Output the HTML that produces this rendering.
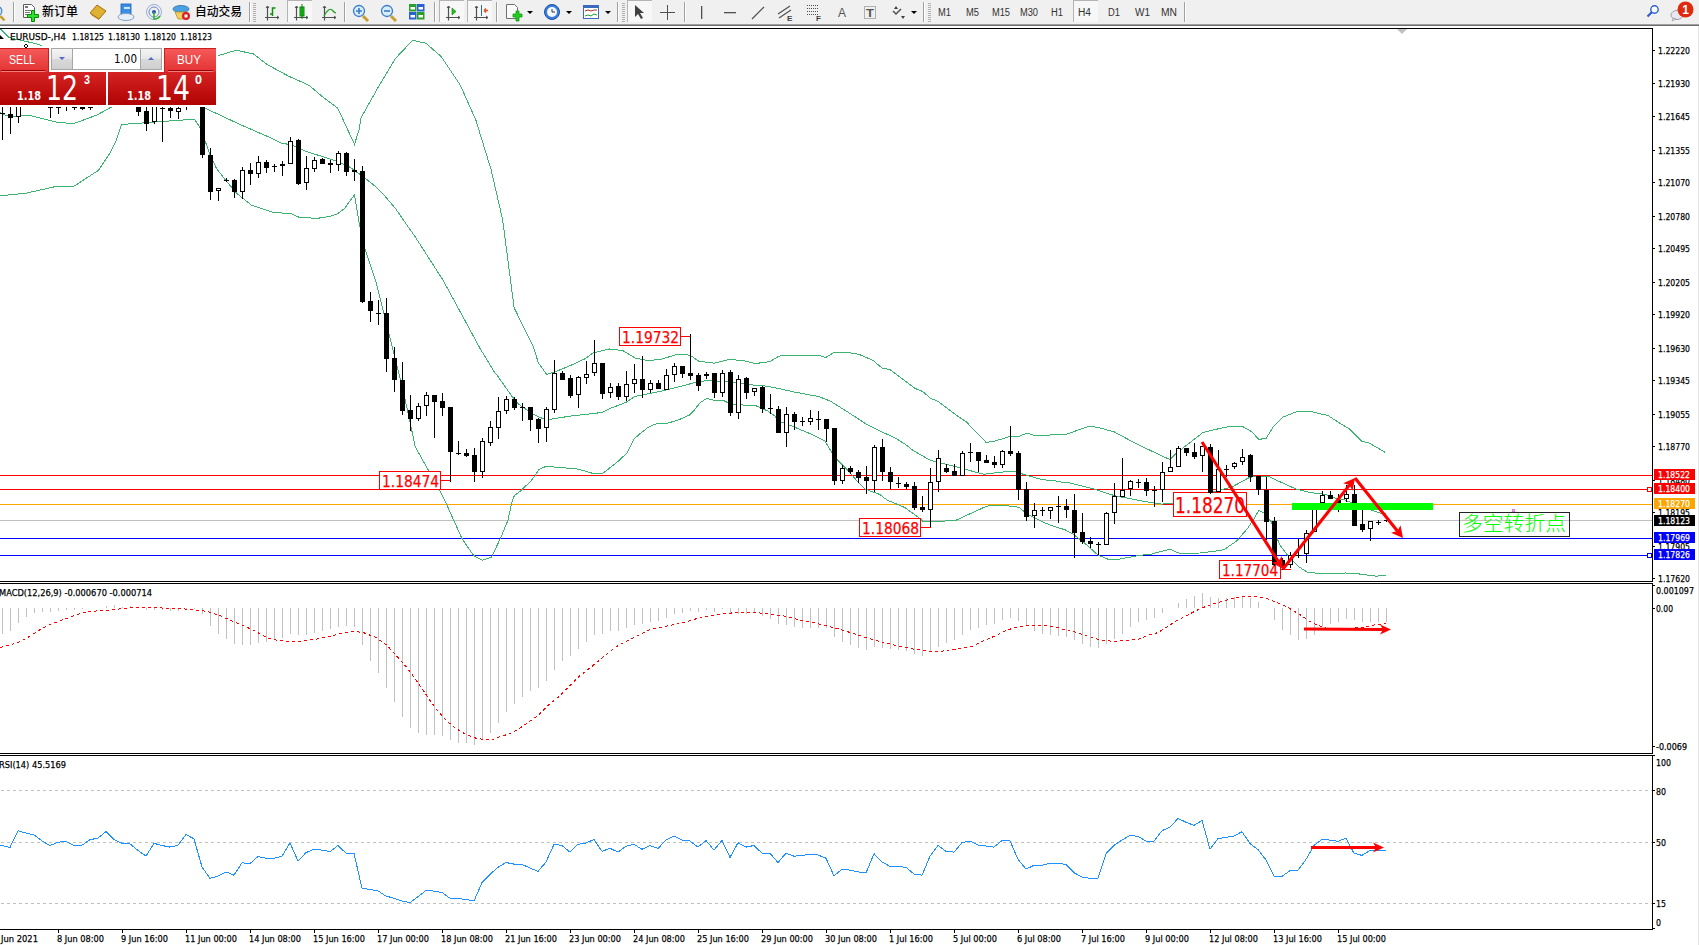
<!DOCTYPE html><html><head><meta charset="utf-8"><title>EURUSD H4</title><style>html,body{margin:0;padding:0;background:#fff;width:1699px;height:945px;overflow:hidden}svg{display:block}text{font-family:"Liberation Sans",Arial,sans-serif}</style></head><body>
<svg width="1699" height="945" viewBox="0 0 1699 945">
<defs><clipPath id="cmain"><rect x="0" y="29" width="1652" height="552"/></clipPath><clipPath id="cmacd"><rect x="0" y="584" width="1652" height="169"/></clipPath><clipPath id="crsi"><rect x="0" y="756" width="1652" height="173"/></clipPath><linearGradient id="gtop" x1="0" y1="0" x2="0" y2="1"><stop offset="0" stop-color="#f65b5b"/><stop offset="1" stop-color="#e23232"/></linearGradient><linearGradient id="gbot" x1="0" y1="0" x2="0" y2="1"><stop offset="0" stop-color="#d62424"/><stop offset="1" stop-color="#b00202"/></linearGradient><linearGradient id="gbtn" x1="0" y1="0" x2="0" y2="1"><stop offset="0" stop-color="#f4f4f4"/><stop offset="0.5" stop-color="#e6e6e6"/><stop offset="0.5" stop-color="#d9d9d9"/><stop offset="1" stop-color="#cfcfcf"/></linearGradient></defs>
<rect x="0" y="0" width="1699" height="945" fill="#fff"/>
<g shape-rendering="crispEdges">
<rect x="0" y="475" width="1652" height="1" fill="#ff0000"/>
<rect x="0" y="489" width="1652" height="1" fill="#ff0000"/>
<rect x="0" y="504" width="1652" height="1" fill="#ffa500"/>
<rect x="0" y="520" width="1652" height="1" fill="#c0c0c0"/>
<rect x="0" y="538" width="1652" height="1" fill="#0000ff"/>
<rect x="0" y="555" width="1652" height="1" fill="#0000ff"/>
</g>
<g clip-path="url(#cmain)" fill="none" stroke="#3cb371" stroke-width="1" shape-rendering="crispEdges">
<polyline points="0.0,28.5 9.4,37.7 22.0,40.5 35.0,43.5 41.4,45.5 50.0,52.0 120.0,56.0 218.4,55.6 236.4,50.2 253.6,54.0 267.0,64.4 288.1,75.9 309.2,85.4 322.6,96.9 337.9,108.4 347.8,130.0 354.5,144.3 359.0,130.0 360.9,118.0 378.1,87.4 395.3,58.6 412.6,40.3 426.0,43.3 441.3,56.7 460.4,85.4 475.8,119.9 491.1,169.7 502.6,219.5 514.1,307.6 525.0,330.0 533.3,346.5 538.4,363.0 546.7,374.4 555.0,371.9 568.9,366.2 585.4,358.6 593.0,352.9 609.5,349.0 622.7,350.5 635.4,358.1 648.1,360.6 660.8,359.4 677.3,354.3 686.2,354.3 692.5,356.8 698.9,361.3 714.1,363.2 729.4,359.4 743.3,360.6 754.8,363.4 765.7,362.5 770.6,361.1 778.4,356.4 782.6,355.4 819.3,355.4 825.7,357.5 834.2,352.3 846.2,352.3 858.9,354.3 873.0,360.4 882.2,368.1 890.0,369.6 901.3,378.0 915.4,388.6 922.5,391.4 930.9,398.5 938.0,401.3 957.8,416.2 966.2,421.8 986.0,442.3 993.1,441.6 1000.0,439.5 1010.4,436.3 1019.3,436.3 1026.9,433.1 1034.5,435.5 1044.7,435.5 1055.0,434.5 1066.9,434.1 1089.1,426.2 1098.0,427.4 1114.3,431.9 1132.0,441.5 1150.0,450.3 1169.9,459.6 1176.5,453.0 1183.8,447.4 1192.7,440.5 1203.0,432.4 1211.8,430.2 1229.5,426.5 1242.0,426.2 1251.5,431.6 1258.9,439.4 1266.2,438.3 1273.6,426.2 1282.4,417.4 1297.1,411.5 1310.4,411.5 1328.0,415.5 1339.8,423.2 1350.1,429.4 1361.9,441.2 1369.2,443.0 1385.4,452.5"/>
<polyline points="0.0,112.7 8.5,116.4 21.2,115.7 30.7,115.7 40.2,118.0 57.1,122.4 73.0,123.5 76.2,122.8 97.4,114.8 111.1,107.2 130.0,95.0 150.0,92.0 180.0,95.0 205.7,108.4 238.3,123.7 260.0,133.2 270.0,137.5 281.2,143.2 291.7,144.8 305.5,151.2 334.0,160.2 348.9,166.5 355.0,170.8 365.8,178.7 374.3,185.6 381.7,192.4 395.4,208.3 410.3,230.0 414.4,235.6 443.2,280.5 448.4,290.0 470.1,330.0 480.0,348.4 494.6,372.4 496.5,374.4 511.7,396.0 518.0,403.7 533.3,414.4 543.5,418.9 549.2,419.5 568.9,416.3 601.9,412.5 610.0,408.5 626.0,402.4 635.4,396.2 640.0,395.5 665.9,390.1 693.8,382.9 707.8,380.3 721.7,381.6 740.8,382.9 749.7,384.8 760.0,385.4 770.0,386.7 777.0,388.2 795.3,392.2 819.3,396.7 830.6,401.3 847.6,411.9 865.9,423.9 882.9,432.4 894.2,437.4 905.0,444.1 912.6,450.1 915.2,451.7 930.4,460.4 946.9,464.4 959.6,467.6 968.5,470.2 983.7,474.3 1001.5,472.1 1014.2,471.4 1024.4,474.6 1042.1,479.7 1055.0,480.7 1065.0,482.9 1069.8,483.0 1092.0,488.4 1114.3,495.6 1129.1,498.5 1151.3,502.7 1161.7,504.1 1173.5,503.2 1214.0,491.5 1231.7,487.1 1249.2,477.6 1255.6,476.0 1268.3,476.0 1275.0,479.5 1295.2,488.7 1310.0,492.6 1318.7,493.4 1325.9,494.6 1336.2,498.6 1344.1,499.8 1351.3,502.5 1372.7,510.5 1379.8,512.9 1385.7,514.0"/>
<polyline points="0.0,195.8 26.5,193.1 57.1,186.2 74.0,186.2 98.4,170.4 110.0,152.9 116.4,140.2 121.7,124.3 122.3,124.4 194.5,119.2 200.3,128.0 205.0,140.7 210.0,154.7 216.6,168.7 224.7,179.0 236.4,193.0 251.5,205.3 264.3,209.4 273.8,212.5 290.7,213.6 299.2,217.3 317.1,218.4 330.9,216.2 337.8,213.6 344.7,208.3 354.5,194.6 359.5,224.5 364.9,249.0 376.6,284.1 383.8,313.0 389.0,334.2 399.1,374.4 407.2,408.6 415.2,446.8 428.5,470.4 439.6,490.4 446.3,503.7 461.9,538.5 473.7,555.6 482.6,560.3 491.5,557.0 500.4,538.5 507.8,520.7 512.2,500.7 514.6,495.3 519.8,491.6 527.3,484.5 531.1,480.7 534.8,476.0 538.6,469.9 545.2,466.6 550.8,466.6 558.4,467.6 574.4,468.5 581.0,469.9 593.2,473.5 602.6,473.5 616.8,462.4 627.1,453.0 633.7,439.3 640.0,433.7 648.5,427.1 657.4,423.3 667.3,423.3 679.5,419.5 689.9,414.8 692.7,412.0 700.3,402.6 706.9,398.4 713.4,400.2 722.9,400.2 727.6,402.6 734.2,404.7 754.9,405.4 759.6,407.3 768.0,411.1 774.6,415.8 779.4,421.4 787.9,424.4 810.8,434.0 824.8,441.0 831.1,451.1 837.5,460.0 848.9,471.4 856.5,480.3 865.4,489.2 879.4,494.3 887.0,500.0 905.0,507.6 919.0,517.8 922.8,521.3 940.6,521.3 955.8,520.3 986.3,506.3 993.9,505.1 1014.2,506.3 1019.3,507.6 1026.9,514.0 1034.5,517.8 1044.7,522.9 1055.0,526.7 1065.0,529.8 1072.8,533.8 1084.6,543.0 1098.0,555.1 1108.3,559.3 1118.7,559.3 1138.0,555.6 1151.3,554.1 1169.8,549.2 1179.4,553.3 1200.0,553.0 1215.0,551.1 1223.8,549.8 1236.5,541.1 1247.6,528.4 1254.0,518.9 1258.7,510.6 1263.5,512.5 1271.4,522.1 1279.4,544.3 1288.9,557.0 1298.4,566.5 1307.6,572.4 1322.9,573.7 1345.7,573.0 1357.1,573.7 1376.2,576.2 1385.7,575.2"/>
</g>
<rect x="379.5" y="471.5" width="61" height="18" fill="#fff" stroke="#ff0000" stroke-width="1" shape-rendering="crispEdges"/>
<rect x="441" y="480" width="10" height="1" fill="#ff0000" shape-rendering="crispEdges"/>
<text x="382" y="487" font-size="16" fill="#ff0000" stroke="#ff0000" stroke-width="0.25" textLength="57" lengthAdjust="spacingAndGlyphs" style="font-family:DejaVu Sans, Liberation Sans, sans-serif">1.18474</text>
<rect x="619.5" y="327.5" width="61" height="18" fill="#fff" stroke="#ff0000" stroke-width="1" shape-rendering="crispEdges"/>
<rect x="681" y="336" width="10" height="1" fill="#ff0000" shape-rendering="crispEdges"/>
<text x="622" y="343" font-size="16" fill="#ff0000" stroke="#ff0000" stroke-width="0.25" textLength="57" lengthAdjust="spacingAndGlyphs" style="font-family:DejaVu Sans, Liberation Sans, sans-serif">1.19732</text>
<rect x="859.5" y="518.5" width="61" height="18" fill="#fff" stroke="#ff0000" stroke-width="1" shape-rendering="crispEdges"/>
<rect x="921" y="527" width="10" height="1" fill="#ff0000" shape-rendering="crispEdges"/>
<text x="862" y="534" font-size="16" fill="#ff0000" stroke="#ff0000" stroke-width="0.25" textLength="57" lengthAdjust="spacingAndGlyphs" style="font-family:DejaVu Sans, Liberation Sans, sans-serif">1.18068</text>
<rect x="1173.5" y="492.5" width="73" height="24" fill="#fff" stroke="#ff0000" stroke-width="1" shape-rendering="crispEdges"/>
<rect x="1163" y="504" width="10" height="1" fill="#ff0000" shape-rendering="crispEdges"/>
<text x="1175" y="513" font-size="22" fill="#ff0000" stroke="#ff0000" stroke-width="0.25" textLength="70" lengthAdjust="spacingAndGlyphs" style="font-family:DejaVu Sans, Liberation Sans, sans-serif">1.18270</text>
<rect x="1219.5" y="560.5" width="61" height="18" fill="#fff" stroke="#ff0000" stroke-width="1" shape-rendering="crispEdges"/>
<rect x="1281" y="569" width="10" height="1" fill="#ff0000" shape-rendering="crispEdges"/>
<text x="1222" y="576" font-size="16" fill="#ff0000" stroke="#ff0000" stroke-width="0.25" textLength="56" lengthAdjust="spacingAndGlyphs" style="font-family:DejaVu Sans, Liberation Sans, sans-serif">1.17704</text>
<g shape-rendering="crispEdges">
<rect x="2" y="90" width="1" height="50" fill="#000"/>
<rect x="0" y="113" width="5" height="1" fill="#000"/>
<rect x="10" y="90" width="1" height="44" fill="#000"/>
<rect x="8" y="114" width="5" height="4" fill="#000"/>
<rect x="18" y="90" width="1" height="33" fill="#000"/>
<rect x="16" y="95" width="5" height="22" fill="#000"/>
<rect x="17" y="96" width="3" height="20" fill="#fff"/>
<rect x="26" y="60" width="1" height="35" fill="#000"/>
<rect x="24" y="70" width="5" height="15" fill="#000"/>
<rect x="34" y="60" width="1" height="35" fill="#000"/>
<rect x="32" y="70" width="5" height="15" fill="#000"/>
<rect x="33" y="71" width="3" height="13" fill="#fff"/>
<rect x="42" y="60" width="1" height="35" fill="#000"/>
<rect x="40" y="70" width="5" height="15" fill="#000"/>
<rect x="50" y="95" width="1" height="23" fill="#000"/>
<rect x="48" y="98" width="5" height="10" fill="#000"/>
<rect x="58" y="95" width="1" height="19" fill="#000"/>
<rect x="56" y="98" width="5" height="10" fill="#000"/>
<rect x="57" y="99" width="3" height="8" fill="#fff"/>
<rect x="66" y="95" width="1" height="16" fill="#000"/>
<rect x="64" y="100" width="5" height="2" fill="#000"/>
<rect x="74" y="95" width="1" height="15" fill="#000"/>
<rect x="72" y="100" width="5" height="8" fill="#000"/>
<rect x="82" y="95" width="1" height="15" fill="#000"/>
<rect x="80" y="100" width="5" height="9" fill="#000"/>
<rect x="90" y="95" width="1" height="15" fill="#000"/>
<rect x="88" y="100" width="5" height="8" fill="#000"/>
<rect x="89" y="101" width="3" height="6" fill="#fff"/>
<rect x="98" y="60" width="1" height="35" fill="#000"/>
<rect x="96" y="70" width="5" height="15" fill="#000"/>
<rect x="106" y="60" width="1" height="35" fill="#000"/>
<rect x="104" y="70" width="5" height="15" fill="#000"/>
<rect x="105" y="71" width="3" height="13" fill="#fff"/>
<rect x="114" y="60" width="1" height="35" fill="#000"/>
<rect x="112" y="70" width="5" height="15" fill="#000"/>
<rect x="113" y="71" width="3" height="13" fill="#fff"/>
<rect x="122" y="60" width="1" height="35" fill="#000"/>
<rect x="120" y="70" width="5" height="15" fill="#000"/>
<rect x="130" y="60" width="1" height="35" fill="#000"/>
<rect x="128" y="70" width="5" height="15" fill="#000"/>
<rect x="129" y="71" width="3" height="13" fill="#fff"/>
<rect x="138" y="90" width="1" height="26" fill="#000"/>
<rect x="136" y="95" width="5" height="17" fill="#000"/>
<rect x="146" y="107" width="1" height="24" fill="#000"/>
<rect x="144" y="111" width="5" height="13" fill="#000"/>
<rect x="154" y="90" width="1" height="34" fill="#000"/>
<rect x="152" y="95" width="5" height="27" fill="#000"/>
<rect x="153" y="96" width="3" height="25" fill="#fff"/>
<rect x="162" y="95" width="1" height="47" fill="#000"/>
<rect x="160" y="108" width="5" height="1" fill="#000"/>
<rect x="170" y="107" width="1" height="11" fill="#000"/>
<rect x="168" y="108" width="5" height="3" fill="#000"/>
<rect x="178" y="107" width="1" height="12" fill="#000"/>
<rect x="176" y="108" width="5" height="4" fill="#000"/>
<rect x="177" y="109" width="3" height="2" fill="#fff"/>
<rect x="186" y="90" width="1" height="20" fill="#000"/>
<rect x="184" y="95" width="5" height="9" fill="#000"/>
<rect x="194" y="60" width="1" height="35" fill="#000"/>
<rect x="192" y="70" width="5" height="15" fill="#000"/>
<rect x="202" y="90" width="1" height="68" fill="#000"/>
<rect x="200" y="95" width="5" height="60" fill="#000"/>
<rect x="210" y="148" width="1" height="52" fill="#000"/>
<rect x="208" y="155" width="5" height="37" fill="#000"/>
<rect x="218" y="188" width="1" height="13" fill="#000"/>
<rect x="216" y="188" width="5" height="3" fill="#000"/>
<rect x="217" y="189" width="3" height="1" fill="#fff"/>
<rect x="226" y="178" width="1" height="4" fill="#000"/>
<rect x="224" y="180" width="5" height="1" fill="#000"/>
<rect x="234" y="179" width="1" height="19" fill="#000"/>
<rect x="232" y="180" width="5" height="12" fill="#000"/>
<rect x="242" y="167" width="1" height="32" fill="#000"/>
<rect x="240" y="170" width="5" height="22" fill="#000"/>
<rect x="241" y="171" width="3" height="20" fill="#fff"/>
<rect x="250" y="163" width="1" height="22" fill="#000"/>
<rect x="248" y="170" width="5" height="4" fill="#000"/>
<rect x="258" y="156" width="1" height="22" fill="#000"/>
<rect x="256" y="162" width="5" height="12" fill="#000"/>
<rect x="257" y="163" width="3" height="10" fill="#fff"/>
<rect x="266" y="160" width="1" height="13" fill="#000"/>
<rect x="264" y="162" width="5" height="6" fill="#000"/>
<rect x="274" y="164" width="1" height="8" fill="#000"/>
<rect x="272" y="166" width="5" height="1" fill="#000"/>
<rect x="282" y="161" width="1" height="15" fill="#000"/>
<rect x="280" y="164" width="5" height="2" fill="#000"/>
<rect x="290" y="137" width="1" height="27" fill="#000"/>
<rect x="288" y="141" width="5" height="23" fill="#000"/>
<rect x="289" y="142" width="3" height="21" fill="#fff"/>
<rect x="298" y="139" width="1" height="46" fill="#000"/>
<rect x="296" y="140" width="5" height="44" fill="#000"/>
<rect x="306" y="156" width="1" height="34" fill="#000"/>
<rect x="304" y="168" width="5" height="15" fill="#000"/>
<rect x="305" y="169" width="3" height="13" fill="#fff"/>
<rect x="314" y="157" width="1" height="15" fill="#000"/>
<rect x="312" y="160" width="5" height="9" fill="#000"/>
<rect x="313" y="161" width="3" height="7" fill="#fff"/>
<rect x="322" y="158" width="1" height="6" fill="#000"/>
<rect x="320" y="159" width="5" height="5" fill="#000"/>
<rect x="330" y="160" width="1" height="13" fill="#000"/>
<rect x="328" y="163" width="5" height="2" fill="#000"/>
<rect x="338" y="151" width="1" height="20" fill="#000"/>
<rect x="336" y="153" width="5" height="12" fill="#000"/>
<rect x="337" y="154" width="3" height="10" fill="#fff"/>
<rect x="346" y="152" width="1" height="24" fill="#000"/>
<rect x="344" y="153" width="5" height="19" fill="#000"/>
<rect x="354" y="159" width="1" height="22" fill="#000"/>
<rect x="352" y="170" width="5" height="2" fill="#000"/>
<rect x="362" y="166" width="1" height="137" fill="#000"/>
<rect x="360" y="171" width="5" height="131" fill="#000"/>
<rect x="370" y="292" width="1" height="30" fill="#000"/>
<rect x="368" y="301" width="5" height="10" fill="#000"/>
<rect x="378" y="300" width="1" height="25" fill="#000"/>
<rect x="376" y="313" width="5" height="1" fill="#000"/>
<rect x="386" y="298" width="1" height="74" fill="#000"/>
<rect x="384" y="313" width="5" height="46" fill="#000"/>
<rect x="394" y="347" width="1" height="45" fill="#000"/>
<rect x="392" y="358" width="5" height="22" fill="#000"/>
<rect x="402" y="362" width="1" height="53" fill="#000"/>
<rect x="400" y="380" width="5" height="31" fill="#000"/>
<rect x="410" y="395" width="1" height="36" fill="#000"/>
<rect x="408" y="410" width="5" height="9" fill="#000"/>
<rect x="418" y="403" width="1" height="18" fill="#000"/>
<rect x="416" y="406" width="5" height="13" fill="#000"/>
<rect x="417" y="407" width="3" height="11" fill="#fff"/>
<rect x="426" y="392" width="1" height="24" fill="#000"/>
<rect x="424" y="395" width="5" height="11" fill="#000"/>
<rect x="425" y="396" width="3" height="9" fill="#fff"/>
<rect x="434" y="395" width="1" height="43" fill="#000"/>
<rect x="432" y="395" width="5" height="7" fill="#000"/>
<rect x="442" y="393" width="1" height="23" fill="#000"/>
<rect x="440" y="401" width="5" height="7" fill="#000"/>
<rect x="450" y="407" width="1" height="75" fill="#000"/>
<rect x="448" y="407" width="5" height="45" fill="#000"/>
<rect x="458" y="441" width="1" height="14" fill="#000"/>
<rect x="456" y="453" width="5" height="1" fill="#000"/>
<rect x="466" y="449" width="1" height="8" fill="#000"/>
<rect x="464" y="453" width="5" height="3" fill="#000"/>
<rect x="474" y="448" width="1" height="34" fill="#000"/>
<rect x="472" y="455" width="5" height="17" fill="#000"/>
<rect x="482" y="438" width="1" height="40" fill="#000"/>
<rect x="480" y="441" width="5" height="31" fill="#000"/>
<rect x="481" y="442" width="3" height="29" fill="#fff"/>
<rect x="490" y="421" width="1" height="25" fill="#000"/>
<rect x="488" y="427" width="5" height="16" fill="#000"/>
<rect x="489" y="428" width="3" height="14" fill="#fff"/>
<rect x="498" y="397" width="1" height="42" fill="#000"/>
<rect x="496" y="411" width="5" height="17" fill="#000"/>
<rect x="497" y="412" width="3" height="15" fill="#fff"/>
<rect x="506" y="396" width="1" height="18" fill="#000"/>
<rect x="504" y="399" width="5" height="12" fill="#000"/>
<rect x="505" y="400" width="3" height="10" fill="#fff"/>
<rect x="514" y="397" width="1" height="13" fill="#000"/>
<rect x="512" y="399" width="5" height="9" fill="#000"/>
<rect x="522" y="403" width="1" height="18" fill="#000"/>
<rect x="520" y="407" width="5" height="1" fill="#000"/>
<rect x="530" y="407" width="1" height="24" fill="#000"/>
<rect x="528" y="407" width="5" height="13" fill="#000"/>
<rect x="538" y="418" width="1" height="25" fill="#000"/>
<rect x="536" y="419" width="5" height="10" fill="#000"/>
<rect x="546" y="407" width="1" height="35" fill="#000"/>
<rect x="544" y="409" width="5" height="19" fill="#000"/>
<rect x="545" y="410" width="3" height="17" fill="#fff"/>
<rect x="554" y="360" width="1" height="53" fill="#000"/>
<rect x="552" y="373" width="5" height="37" fill="#000"/>
<rect x="553" y="374" width="3" height="35" fill="#fff"/>
<rect x="562" y="371" width="1" height="9" fill="#000"/>
<rect x="560" y="373" width="5" height="7" fill="#000"/>
<rect x="570" y="375" width="1" height="23" fill="#000"/>
<rect x="568" y="378" width="5" height="18" fill="#000"/>
<rect x="578" y="376" width="1" height="32" fill="#000"/>
<rect x="576" y="377" width="5" height="18" fill="#000"/>
<rect x="577" y="378" width="3" height="16" fill="#fff"/>
<rect x="586" y="361" width="1" height="23" fill="#000"/>
<rect x="584" y="374" width="5" height="4" fill="#000"/>
<rect x="585" y="375" width="3" height="2" fill="#fff"/>
<rect x="594" y="340" width="1" height="36" fill="#000"/>
<rect x="592" y="363" width="5" height="10" fill="#000"/>
<rect x="593" y="364" width="3" height="8" fill="#fff"/>
<rect x="602" y="363" width="1" height="36" fill="#000"/>
<rect x="600" y="363" width="5" height="31" fill="#000"/>
<rect x="610" y="383" width="1" height="15" fill="#000"/>
<rect x="608" y="387" width="5" height="6" fill="#000"/>
<rect x="609" y="388" width="3" height="4" fill="#fff"/>
<rect x="618" y="383" width="1" height="17" fill="#000"/>
<rect x="616" y="386" width="5" height="11" fill="#000"/>
<rect x="626" y="371" width="1" height="30" fill="#000"/>
<rect x="624" y="384" width="5" height="13" fill="#000"/>
<rect x="625" y="385" width="3" height="11" fill="#fff"/>
<rect x="634" y="364" width="1" height="29" fill="#000"/>
<rect x="632" y="379" width="5" height="5" fill="#000"/>
<rect x="633" y="380" width="3" height="3" fill="#fff"/>
<rect x="642" y="356" width="1" height="42" fill="#000"/>
<rect x="640" y="379" width="5" height="11" fill="#000"/>
<rect x="650" y="380" width="1" height="13" fill="#000"/>
<rect x="648" y="383" width="5" height="7" fill="#000"/>
<rect x="649" y="384" width="3" height="5" fill="#fff"/>
<rect x="658" y="380" width="1" height="9" fill="#000"/>
<rect x="656" y="383" width="5" height="6" fill="#000"/>
<rect x="666" y="369" width="1" height="21" fill="#000"/>
<rect x="664" y="375" width="5" height="15" fill="#000"/>
<rect x="665" y="376" width="3" height="13" fill="#fff"/>
<rect x="674" y="363" width="1" height="19" fill="#000"/>
<rect x="672" y="366" width="5" height="9" fill="#000"/>
<rect x="673" y="367" width="3" height="7" fill="#fff"/>
<rect x="682" y="366" width="1" height="12" fill="#000"/>
<rect x="680" y="366" width="5" height="8" fill="#000"/>
<rect x="690" y="334" width="1" height="46" fill="#000"/>
<rect x="688" y="373" width="5" height="3" fill="#000"/>
<rect x="698" y="373" width="1" height="18" fill="#000"/>
<rect x="696" y="375" width="5" height="11" fill="#000"/>
<rect x="706" y="372" width="1" height="7" fill="#000"/>
<rect x="704" y="374" width="5" height="2" fill="#000"/>
<rect x="714" y="373" width="1" height="25" fill="#000"/>
<rect x="712" y="373" width="5" height="20" fill="#000"/>
<rect x="722" y="370" width="1" height="27" fill="#000"/>
<rect x="720" y="373" width="5" height="20" fill="#000"/>
<rect x="721" y="374" width="3" height="18" fill="#fff"/>
<rect x="730" y="370" width="1" height="46" fill="#000"/>
<rect x="728" y="372" width="5" height="41" fill="#000"/>
<rect x="738" y="375" width="1" height="44" fill="#000"/>
<rect x="736" y="379" width="5" height="34" fill="#000"/>
<rect x="737" y="380" width="3" height="32" fill="#fff"/>
<rect x="746" y="377" width="1" height="22" fill="#000"/>
<rect x="744" y="378" width="5" height="15" fill="#000"/>
<rect x="754" y="388" width="1" height="8" fill="#000"/>
<rect x="752" y="388" width="5" height="4" fill="#000"/>
<rect x="753" y="389" width="3" height="2" fill="#fff"/>
<rect x="762" y="386" width="1" height="27" fill="#000"/>
<rect x="760" y="387" width="5" height="22" fill="#000"/>
<rect x="770" y="394" width="1" height="20" fill="#000"/>
<rect x="768" y="408" width="5" height="1" fill="#000"/>
<rect x="778" y="406" width="1" height="27" fill="#000"/>
<rect x="776" y="409" width="5" height="24" fill="#000"/>
<rect x="786" y="407" width="1" height="40" fill="#000"/>
<rect x="784" y="414" width="5" height="19" fill="#000"/>
<rect x="785" y="415" width="3" height="17" fill="#fff"/>
<rect x="794" y="412" width="1" height="18" fill="#000"/>
<rect x="792" y="414" width="5" height="8" fill="#000"/>
<rect x="802" y="417" width="1" height="9" fill="#000"/>
<rect x="800" y="421" width="5" height="1" fill="#000"/>
<rect x="810" y="410" width="1" height="15" fill="#000"/>
<rect x="808" y="418" width="5" height="4" fill="#000"/>
<rect x="809" y="419" width="3" height="2" fill="#fff"/>
<rect x="818" y="411" width="1" height="19" fill="#000"/>
<rect x="816" y="419" width="5" height="1" fill="#000"/>
<rect x="826" y="419" width="1" height="23" fill="#000"/>
<rect x="824" y="419" width="5" height="10" fill="#000"/>
<rect x="834" y="428" width="1" height="57" fill="#000"/>
<rect x="832" y="428" width="5" height="53" fill="#000"/>
<rect x="842" y="465" width="1" height="19" fill="#000"/>
<rect x="840" y="468" width="5" height="13" fill="#000"/>
<rect x="841" y="469" width="3" height="11" fill="#fff"/>
<rect x="850" y="466" width="1" height="8" fill="#000"/>
<rect x="848" y="468" width="5" height="4" fill="#000"/>
<rect x="858" y="470" width="1" height="13" fill="#000"/>
<rect x="856" y="472" width="5" height="6" fill="#000"/>
<rect x="866" y="466" width="1" height="28" fill="#000"/>
<rect x="864" y="477" width="5" height="4" fill="#000"/>
<rect x="874" y="445" width="1" height="47" fill="#000"/>
<rect x="872" y="447" width="5" height="34" fill="#000"/>
<rect x="873" y="448" width="3" height="32" fill="#fff"/>
<rect x="882" y="439" width="1" height="42" fill="#000"/>
<rect x="880" y="447" width="5" height="25" fill="#000"/>
<rect x="890" y="467" width="1" height="22" fill="#000"/>
<rect x="888" y="472" width="5" height="10" fill="#000"/>
<rect x="898" y="477" width="1" height="11" fill="#000"/>
<rect x="896" y="483" width="5" height="1" fill="#000"/>
<rect x="906" y="482" width="1" height="7" fill="#000"/>
<rect x="904" y="484" width="5" height="3" fill="#000"/>
<rect x="914" y="482" width="1" height="28" fill="#000"/>
<rect x="912" y="486" width="5" height="22" fill="#000"/>
<rect x="922" y="496" width="1" height="16" fill="#000"/>
<rect x="920" y="507" width="5" height="3" fill="#000"/>
<rect x="930" y="468" width="1" height="59" fill="#000"/>
<rect x="928" y="482" width="5" height="28" fill="#000"/>
<rect x="929" y="483" width="3" height="26" fill="#fff"/>
<rect x="938" y="450" width="1" height="42" fill="#000"/>
<rect x="936" y="458" width="5" height="24" fill="#000"/>
<rect x="937" y="459" width="3" height="22" fill="#fff"/>
<rect x="946" y="464" width="1" height="9" fill="#000"/>
<rect x="944" y="468" width="5" height="4" fill="#000"/>
<rect x="954" y="464" width="1" height="12" fill="#000"/>
<rect x="952" y="471" width="5" height="5" fill="#000"/>
<rect x="962" y="451" width="1" height="25" fill="#000"/>
<rect x="960" y="453" width="5" height="23" fill="#000"/>
<rect x="961" y="454" width="3" height="21" fill="#fff"/>
<rect x="970" y="443" width="1" height="19" fill="#000"/>
<rect x="968" y="452" width="5" height="1" fill="#000"/>
<rect x="978" y="452" width="1" height="20" fill="#000"/>
<rect x="976" y="452" width="5" height="9" fill="#000"/>
<rect x="986" y="455" width="1" height="8" fill="#000"/>
<rect x="984" y="460" width="5" height="3" fill="#000"/>
<rect x="994" y="456" width="1" height="12" fill="#000"/>
<rect x="992" y="462" width="5" height="3" fill="#000"/>
<rect x="1002" y="450" width="1" height="18" fill="#000"/>
<rect x="1000" y="451" width="5" height="14" fill="#000"/>
<rect x="1001" y="452" width="3" height="12" fill="#fff"/>
<rect x="1010" y="426" width="1" height="30" fill="#000"/>
<rect x="1008" y="451" width="5" height="3" fill="#000"/>
<rect x="1018" y="451" width="1" height="49" fill="#000"/>
<rect x="1016" y="453" width="5" height="37" fill="#000"/>
<rect x="1026" y="482" width="1" height="39" fill="#000"/>
<rect x="1024" y="489" width="5" height="28" fill="#000"/>
<rect x="1034" y="503" width="1" height="25" fill="#000"/>
<rect x="1032" y="510" width="5" height="6" fill="#000"/>
<rect x="1033" y="511" width="3" height="4" fill="#fff"/>
<rect x="1042" y="507" width="1" height="9" fill="#000"/>
<rect x="1040" y="510" width="5" height="1" fill="#000"/>
<rect x="1050" y="507" width="1" height="12" fill="#000"/>
<rect x="1048" y="507" width="5" height="4" fill="#000"/>
<rect x="1049" y="508" width="3" height="2" fill="#fff"/>
<rect x="1058" y="496" width="1" height="27" fill="#000"/>
<rect x="1056" y="506" width="5" height="1" fill="#000"/>
<rect x="1066" y="499" width="1" height="19" fill="#000"/>
<rect x="1064" y="506" width="5" height="4" fill="#000"/>
<rect x="1074" y="494" width="1" height="64" fill="#000"/>
<rect x="1072" y="510" width="5" height="23" fill="#000"/>
<rect x="1082" y="513" width="1" height="31" fill="#000"/>
<rect x="1080" y="532" width="5" height="10" fill="#000"/>
<rect x="1090" y="537" width="1" height="11" fill="#000"/>
<rect x="1088" y="541" width="5" height="3" fill="#000"/>
<rect x="1098" y="542" width="1" height="13" fill="#000"/>
<rect x="1096" y="544" width="5" height="1" fill="#000"/>
<rect x="1106" y="512" width="1" height="33" fill="#000"/>
<rect x="1104" y="513" width="5" height="32" fill="#000"/>
<rect x="1105" y="514" width="3" height="30" fill="#fff"/>
<rect x="1114" y="483" width="1" height="41" fill="#000"/>
<rect x="1112" y="496" width="5" height="17" fill="#000"/>
<rect x="1113" y="497" width="3" height="15" fill="#fff"/>
<rect x="1122" y="458" width="1" height="39" fill="#000"/>
<rect x="1120" y="490" width="5" height="7" fill="#000"/>
<rect x="1121" y="491" width="3" height="5" fill="#fff"/>
<rect x="1130" y="480" width="1" height="16" fill="#000"/>
<rect x="1128" y="481" width="5" height="8" fill="#000"/>
<rect x="1129" y="482" width="3" height="6" fill="#fff"/>
<rect x="1138" y="479" width="1" height="9" fill="#000"/>
<rect x="1136" y="482" width="5" height="1" fill="#000"/>
<rect x="1146" y="478" width="1" height="18" fill="#000"/>
<rect x="1144" y="482" width="5" height="9" fill="#000"/>
<rect x="1154" y="486" width="1" height="21" fill="#000"/>
<rect x="1152" y="490" width="5" height="1" fill="#000"/>
<rect x="1162" y="462" width="1" height="40" fill="#000"/>
<rect x="1160" y="472" width="5" height="18" fill="#000"/>
<rect x="1161" y="473" width="3" height="16" fill="#fff"/>
<rect x="1170" y="450" width="1" height="22" fill="#000"/>
<rect x="1168" y="467" width="5" height="5" fill="#000"/>
<rect x="1169" y="468" width="3" height="3" fill="#fff"/>
<rect x="1178" y="446" width="1" height="21" fill="#000"/>
<rect x="1176" y="448" width="5" height="19" fill="#000"/>
<rect x="1177" y="449" width="3" height="17" fill="#fff"/>
<rect x="1186" y="448" width="1" height="8" fill="#000"/>
<rect x="1184" y="448" width="5" height="5" fill="#000"/>
<rect x="1194" y="443" width="1" height="16" fill="#000"/>
<rect x="1192" y="452" width="5" height="5" fill="#000"/>
<rect x="1202" y="446" width="1" height="26" fill="#000"/>
<rect x="1200" y="446" width="5" height="10" fill="#000"/>
<rect x="1201" y="447" width="3" height="8" fill="#fff"/>
<rect x="1210" y="444" width="1" height="50" fill="#000"/>
<rect x="1208" y="447" width="5" height="46" fill="#000"/>
<rect x="1218" y="450" width="1" height="42" fill="#000"/>
<rect x="1216" y="469" width="5" height="23" fill="#000"/>
<rect x="1217" y="470" width="3" height="21" fill="#fff"/>
<rect x="1226" y="465" width="1" height="12" fill="#000"/>
<rect x="1224" y="469" width="5" height="1" fill="#000"/>
<rect x="1234" y="462" width="1" height="7" fill="#000"/>
<rect x="1232" y="463" width="5" height="4" fill="#000"/>
<rect x="1233" y="464" width="3" height="2" fill="#fff"/>
<rect x="1242" y="449" width="1" height="16" fill="#000"/>
<rect x="1240" y="457" width="5" height="5" fill="#000"/>
<rect x="1241" y="458" width="3" height="3" fill="#fff"/>
<rect x="1250" y="454" width="1" height="28" fill="#000"/>
<rect x="1248" y="455" width="5" height="22" fill="#000"/>
<rect x="1258" y="476" width="1" height="19" fill="#000"/>
<rect x="1256" y="476" width="5" height="14" fill="#000"/>
<rect x="1266" y="477" width="1" height="63" fill="#000"/>
<rect x="1264" y="490" width="5" height="32" fill="#000"/>
<rect x="1274" y="517" width="1" height="49" fill="#000"/>
<rect x="1272" y="521" width="5" height="44" fill="#000"/>
<rect x="1282" y="558" width="1" height="12" fill="#000"/>
<rect x="1280" y="560" width="5" height="6" fill="#000"/>
<rect x="1290" y="552" width="1" height="16" fill="#000"/>
<rect x="1288" y="555" width="5" height="10" fill="#000"/>
<rect x="1289" y="556" width="3" height="8" fill="#fff"/>
<rect x="1298" y="539" width="1" height="19" fill="#000"/>
<rect x="1296" y="555" width="5" height="1" fill="#000"/>
<rect x="1306" y="530" width="1" height="33" fill="#000"/>
<rect x="1304" y="533" width="5" height="21" fill="#000"/>
<rect x="1305" y="534" width="3" height="19" fill="#fff"/>
<rect x="1314" y="503" width="1" height="29" fill="#000"/>
<rect x="1312" y="505" width="5" height="27" fill="#000"/>
<rect x="1313" y="506" width="3" height="25" fill="#fff"/>
<rect x="1322" y="491" width="1" height="12" fill="#000"/>
<rect x="1320" y="495" width="5" height="8" fill="#000"/>
<rect x="1321" y="496" width="3" height="6" fill="#fff"/>
<rect x="1330" y="491" width="1" height="8" fill="#000"/>
<rect x="1328" y="495" width="5" height="4" fill="#000"/>
<rect x="1338" y="494" width="1" height="18" fill="#000"/>
<rect x="1336" y="500" width="5" height="4" fill="#000"/>
<rect x="1346" y="485" width="1" height="17" fill="#000"/>
<rect x="1344" y="494" width="5" height="5" fill="#000"/>
<rect x="1345" y="495" width="3" height="3" fill="#fff"/>
<rect x="1354" y="485" width="1" height="41" fill="#000"/>
<rect x="1352" y="494" width="5" height="32" fill="#000"/>
<rect x="1362" y="510" width="1" height="22" fill="#000"/>
<rect x="1360" y="524" width="5" height="6" fill="#000"/>
<rect x="1370" y="521" width="1" height="20" fill="#000"/>
<rect x="1368" y="521" width="5" height="8" fill="#000"/>
<rect x="1369" y="522" width="3" height="6" fill="#fff"/>
<rect x="1378" y="520" width="1" height="5" fill="#000"/>
<rect x="1376" y="522" width="5" height="1" fill="#000"/>
<rect x="1386" y="520" width="1" height="2" fill="#000"/>
<rect x="1384" y="520" width="5" height="1" fill="#000"/>
</g>
<rect x="1292" y="503" width="141" height="7" fill="#00ff00" shape-rendering="crispEdges"/>
<rect x="1647.5" y="487.5" width="4" height="4" fill="#fff" stroke="#ff0000" shape-rendering="crispEdges"/>
<rect x="1647.5" y="553.5" width="4" height="4" fill="#fff" stroke="#0000ff" shape-rendering="crispEdges"/>
<line x1="1202" y1="442" x2="1278.2" y2="561.4" stroke="#ff0000" stroke-width="3.1"/>
<polygon points="1283,569 1271.8,562.5 1278.2,561.4 1281.9,556.1" fill="#ff0000"/>
<line x1="1283" y1="569" x2="1349.4" y2="485.1" stroke="#ff0000" stroke-width="3.1"/>
<polygon points="1355,478 1352.6,490.7 1349.4,485.1 1343.2,483.3" fill="#ff0000"/>
<line x1="1355" y1="478" x2="1397.4" y2="531.0" stroke="#ff0000" stroke-width="3.1"/>
<polygon points="1403,538 1391.1,532.8 1397.4,531.0 1400.5,525.3" fill="#ff0000"/>
<rect x="1459.5" y="512.5" width="110" height="24" fill="none" stroke="#222" stroke-width="1" shape-rendering="crispEdges"/>
<text x="1462" y="531" font-size="20" fill="#00ff00" textLength="104" lengthAdjust="spacingAndGlyphs" style="font-family:'Liberation Sans','Noto Sans CJK SC',sans-serif;font-weight:300">多空转折点</text>
<rect x="1512.5" y="509.5" width="2" height="2" fill="none" stroke="#e070e0" stroke-width="1" shape-rendering="crispEdges"/>
<polygon points="1397,29 1407,29 1402,34" fill="#c0c0c0"/>
<rect x="0" y="46" width="218" height="61" fill="#fff"/>
<g shape-rendering="crispEdges">
<rect x="0" y="48" width="49" height="24" fill="url(#gtop)"/>
<rect x="0" y="48" width="49" height="1" fill="#c81e1e"/>
<rect x="48" y="48" width="1" height="24" fill="#c81e1e"/>
<rect x="1" y="70" width="44" height="1" fill="#a00000"/>
<rect x="1" y="71" width="44" height="1" fill="#f08080"/>
<rect x="164" y="48" width="52" height="24" fill="url(#gtop)"/>
<rect x="164" y="48" width="52" height="1" fill="#c81e1e"/>
<rect x="164" y="48" width="1" height="24" fill="#c81e1e"/>
<rect x="168" y="70" width="45" height="1" fill="#a00000"/>
<rect x="168" y="71" width="45" height="1" fill="#f08080"/>
<rect x="0" y="72" width="106" height="33" fill="url(#gbot)"/>
<rect x="108" y="72" width="108" height="33" fill="url(#gbot)"/>
<rect x="51" y="48" width="111" height="22" fill="#fff"/>
<rect x="51.5" y="48.5" width="110" height="21" fill="none" stroke="#a6a6a6"/>
<rect x="52" y="49" width="20" height="20" fill="url(#gbtn)"/>
<rect x="72" y="49" width="1" height="20" fill="#a6a6a6"/>
<rect x="141" y="49" width="20" height="20" fill="url(#gbtn)"/>
<rect x="140" y="49" width="1" height="20" fill="#a6a6a6"/>
</g>
<polygon points="59,57 65,57 62,60" fill="#5068c8"/>
<polygon points="148,60 154,60 151,57" fill="#5068c8"/>
<text x="114" y="63" font-size="12" fill="#000" textLength="23" lengthAdjust="spacingAndGlyphs" style="font-family:DejaVu Sans, sans-serif">1.00</text>
<text x="9" y="64" font-size="12" fill="#fff" textLength="26" lengthAdjust="spacingAndGlyphs">SELL</text>
<text x="177" y="64" font-size="12" fill="#fff" textLength="24" lengthAdjust="spacingAndGlyphs">BUY</text>
<text x="17" y="100" font-size="12.5" fill="#fff" textLength="24" lengthAdjust="spacingAndGlyphs" style="font-family:DejaVu Sans, sans-serif" font-weight="bold">1.18</text>
<text x="46" y="100" font-size="33" fill="#fff" textLength="32" lengthAdjust="spacingAndGlyphs" style="font-family:DejaVu Sans, sans-serif">12</text>
<text x="84" y="84" font-size="12" fill="#fff" textLength="6" lengthAdjust="spacingAndGlyphs" font-weight="bold">3</text>
<text x="127" y="100" font-size="12.5" fill="#fff" textLength="24" lengthAdjust="spacingAndGlyphs" style="font-family:DejaVu Sans, sans-serif" font-weight="bold">1.18</text>
<text x="156" y="100" font-size="33" fill="#fff" textLength="34" lengthAdjust="spacingAndGlyphs" style="font-family:DejaVu Sans, sans-serif">14</text>
<text x="195" y="84" font-size="12" fill="#fff" textLength="7" lengthAdjust="spacingAndGlyphs" font-weight="bold">0</text>
<polygon points="0,39 4,39 0,35" fill="#000"/>
<text x="10" y="40" font-size="9.5" fill="#000" stroke="#000" stroke-width="0.25" textLength="56" lengthAdjust="spacingAndGlyphs" style="font-family:DejaVu Sans, Liberation Sans, sans-serif">EURUSD-,H4</text>
<text x="72" y="40" font-size="9.5" fill="#000" stroke="#000" stroke-width="0.25" textLength="32" lengthAdjust="spacingAndGlyphs" style="font-family:DejaVu Sans, Liberation Sans, sans-serif">1.18125</text>
<text x="108" y="40" font-size="9.5" fill="#000" stroke="#000" stroke-width="0.25" textLength="32" lengthAdjust="spacingAndGlyphs" style="font-family:DejaVu Sans, Liberation Sans, sans-serif">1.18130</text>
<text x="144" y="40" font-size="9.5" fill="#000" stroke="#000" stroke-width="0.25" textLength="32" lengthAdjust="spacingAndGlyphs" style="font-family:DejaVu Sans, Liberation Sans, sans-serif">1.18120</text>
<text x="180" y="40" font-size="9.5" fill="#000" stroke="#000" stroke-width="0.25" textLength="32" lengthAdjust="spacingAndGlyphs" style="font-family:DejaVu Sans, Liberation Sans, sans-serif">1.18123</text>
<path d="M26,44 l2,2 l-2,2 l-2,-2z" fill="none" stroke="#000" stroke-width="1"/>
<g shape-rendering="crispEdges">
<rect x="2" y="608" width="1" height="26" fill="#c0c0c0"/>
<rect x="10" y="608" width="1" height="23" fill="#c0c0c0"/>
<rect x="18" y="608" width="1" height="15" fill="#c0c0c0"/>
<rect x="26" y="608" width="1" height="9" fill="#c0c0c0"/>
<rect x="34" y="608" width="1" height="5" fill="#c0c0c0"/>
<rect x="42" y="608" width="1" height="4" fill="#c0c0c0"/>
<rect x="50" y="608" width="1" height="4" fill="#c0c0c0"/>
<rect x="58" y="608" width="1" height="3" fill="#c0c0c0"/>
<rect x="66" y="608" width="1" height="2" fill="#c0c0c0"/>
<rect x="74" y="608" width="1" height="2" fill="#c0c0c0"/>
<rect x="82" y="608" width="1" height="1" fill="#c0c0c0"/>
<rect x="106" y="606" width="1" height="2" fill="#c0c0c0"/>
<rect x="114" y="605" width="1" height="3" fill="#c0c0c0"/>
<rect x="122" y="607" width="1" height="1" fill="#c0c0c0"/>
<rect x="130" y="606" width="1" height="2" fill="#c0c0c0"/>
<rect x="146" y="608" width="1" height="2" fill="#c0c0c0"/>
<rect x="154" y="608" width="1" height="2" fill="#c0c0c0"/>
<rect x="162" y="608" width="1" height="2" fill="#c0c0c0"/>
<rect x="170" y="608" width="1" height="3" fill="#c0c0c0"/>
<rect x="178" y="608" width="1" height="3" fill="#c0c0c0"/>
<rect x="186" y="608" width="1" height="2" fill="#c0c0c0"/>
<rect x="194" y="608" width="1" height="1" fill="#c0c0c0"/>
<rect x="202" y="608" width="1" height="6" fill="#c0c0c0"/>
<rect x="210" y="608" width="1" height="18" fill="#c0c0c0"/>
<rect x="218" y="608" width="1" height="26" fill="#c0c0c0"/>
<rect x="226" y="608" width="1" height="31" fill="#c0c0c0"/>
<rect x="234" y="608" width="1" height="36" fill="#c0c0c0"/>
<rect x="242" y="608" width="1" height="37" fill="#c0c0c0"/>
<rect x="250" y="608" width="1" height="37" fill="#c0c0c0"/>
<rect x="258" y="608" width="1" height="35" fill="#c0c0c0"/>
<rect x="266" y="608" width="1" height="34" fill="#c0c0c0"/>
<rect x="274" y="608" width="1" height="32" fill="#c0c0c0"/>
<rect x="282" y="608" width="1" height="30" fill="#c0c0c0"/>
<rect x="290" y="608" width="1" height="26" fill="#c0c0c0"/>
<rect x="298" y="608" width="1" height="27" fill="#c0c0c0"/>
<rect x="306" y="608" width="1" height="27" fill="#c0c0c0"/>
<rect x="314" y="608" width="1" height="25" fill="#c0c0c0"/>
<rect x="322" y="608" width="1" height="23" fill="#c0c0c0"/>
<rect x="330" y="608" width="1" height="21" fill="#c0c0c0"/>
<rect x="338" y="608" width="1" height="19" fill="#c0c0c0"/>
<rect x="346" y="608" width="1" height="18" fill="#c0c0c0"/>
<rect x="354" y="608" width="1" height="19" fill="#c0c0c0"/>
<rect x="362" y="608" width="1" height="37" fill="#c0c0c0"/>
<rect x="370" y="608" width="1" height="53" fill="#c0c0c0"/>
<rect x="378" y="608" width="1" height="65" fill="#c0c0c0"/>
<rect x="386" y="608" width="1" height="80" fill="#c0c0c0"/>
<rect x="394" y="608" width="1" height="94" fill="#c0c0c0"/>
<rect x="402" y="608" width="1" height="109" fill="#c0c0c0"/>
<rect x="410" y="608" width="1" height="120" fill="#c0c0c0"/>
<rect x="418" y="608" width="1" height="125" fill="#c0c0c0"/>
<rect x="426" y="608" width="1" height="127" fill="#c0c0c0"/>
<rect x="434" y="608" width="1" height="127" fill="#c0c0c0"/>
<rect x="442" y="608" width="1" height="128" fill="#c0c0c0"/>
<rect x="450" y="608" width="1" height="132" fill="#c0c0c0"/>
<rect x="458" y="608" width="1" height="135" fill="#c0c0c0"/>
<rect x="466" y="608" width="1" height="135" fill="#c0c0c0"/>
<rect x="474" y="608" width="1" height="137" fill="#c0c0c0"/>
<rect x="482" y="608" width="1" height="132" fill="#c0c0c0"/>
<rect x="490" y="608" width="1" height="125" fill="#c0c0c0"/>
<rect x="498" y="608" width="1" height="115" fill="#c0c0c0"/>
<rect x="506" y="608" width="1" height="104" fill="#c0c0c0"/>
<rect x="514" y="608" width="1" height="96" fill="#c0c0c0"/>
<rect x="522" y="608" width="1" height="89" fill="#c0c0c0"/>
<rect x="530" y="608" width="1" height="83" fill="#c0c0c0"/>
<rect x="538" y="608" width="1" height="80" fill="#c0c0c0"/>
<rect x="546" y="608" width="1" height="73" fill="#c0c0c0"/>
<rect x="554" y="608" width="1" height="62" fill="#c0c0c0"/>
<rect x="562" y="608" width="1" height="53" fill="#c0c0c0"/>
<rect x="570" y="608" width="1" height="48" fill="#c0c0c0"/>
<rect x="578" y="608" width="1" height="41" fill="#c0c0c0"/>
<rect x="586" y="608" width="1" height="34" fill="#c0c0c0"/>
<rect x="594" y="608" width="1" height="27" fill="#c0c0c0"/>
<rect x="602" y="608" width="1" height="26" fill="#c0c0c0"/>
<rect x="610" y="608" width="1" height="23" fill="#c0c0c0"/>
<rect x="618" y="608" width="1" height="23" fill="#c0c0c0"/>
<rect x="626" y="608" width="1" height="20" fill="#c0c0c0"/>
<rect x="634" y="608" width="1" height="17" fill="#c0c0c0"/>
<rect x="642" y="608" width="1" height="16" fill="#c0c0c0"/>
<rect x="650" y="608" width="1" height="14" fill="#c0c0c0"/>
<rect x="658" y="608" width="1" height="13" fill="#c0c0c0"/>
<rect x="666" y="608" width="1" height="10" fill="#c0c0c0"/>
<rect x="674" y="608" width="1" height="6" fill="#c0c0c0"/>
<rect x="682" y="608" width="1" height="5" fill="#c0c0c0"/>
<rect x="690" y="608" width="1" height="3" fill="#c0c0c0"/>
<rect x="698" y="608" width="1" height="4" fill="#c0c0c0"/>
<rect x="706" y="608" width="1" height="2" fill="#c0c0c0"/>
<rect x="714" y="608" width="1" height="4" fill="#c0c0c0"/>
<rect x="722" y="608" width="1" height="1" fill="#c0c0c0"/>
<rect x="730" y="608" width="1" height="5" fill="#c0c0c0"/>
<rect x="738" y="608" width="1" height="6" fill="#c0c0c0"/>
<rect x="746" y="608" width="1" height="6" fill="#c0c0c0"/>
<rect x="754" y="608" width="1" height="5" fill="#c0c0c0"/>
<rect x="762" y="608" width="1" height="8" fill="#c0c0c0"/>
<rect x="770" y="608" width="1" height="11" fill="#c0c0c0"/>
<rect x="778" y="608" width="1" height="16" fill="#c0c0c0"/>
<rect x="786" y="608" width="1" height="17" fill="#c0c0c0"/>
<rect x="794" y="608" width="1" height="19" fill="#c0c0c0"/>
<rect x="802" y="608" width="1" height="20" fill="#c0c0c0"/>
<rect x="810" y="608" width="1" height="20" fill="#c0c0c0"/>
<rect x="818" y="608" width="1" height="20" fill="#c0c0c0"/>
<rect x="826" y="608" width="1" height="20" fill="#c0c0c0"/>
<rect x="834" y="608" width="1" height="29" fill="#c0c0c0"/>
<rect x="842" y="608" width="1" height="34" fill="#c0c0c0"/>
<rect x="850" y="608" width="1" height="37" fill="#c0c0c0"/>
<rect x="858" y="608" width="1" height="40" fill="#c0c0c0"/>
<rect x="866" y="608" width="1" height="42" fill="#c0c0c0"/>
<rect x="874" y="608" width="1" height="39" fill="#c0c0c0"/>
<rect x="882" y="608" width="1" height="40" fill="#c0c0c0"/>
<rect x="890" y="608" width="1" height="41" fill="#c0c0c0"/>
<rect x="898" y="608" width="1" height="42" fill="#c0c0c0"/>
<rect x="906" y="608" width="1" height="43" fill="#c0c0c0"/>
<rect x="914" y="608" width="1" height="46" fill="#c0c0c0"/>
<rect x="922" y="608" width="1" height="48" fill="#c0c0c0"/>
<rect x="930" y="608" width="1" height="44" fill="#c0c0c0"/>
<rect x="938" y="608" width="1" height="39" fill="#c0c0c0"/>
<rect x="946" y="608" width="1" height="35" fill="#c0c0c0"/>
<rect x="954" y="608" width="1" height="32" fill="#c0c0c0"/>
<rect x="962" y="608" width="1" height="27" fill="#c0c0c0"/>
<rect x="970" y="608" width="1" height="22" fill="#c0c0c0"/>
<rect x="978" y="608" width="1" height="20" fill="#c0c0c0"/>
<rect x="986" y="608" width="1" height="17" fill="#c0c0c0"/>
<rect x="994" y="608" width="1" height="16" fill="#c0c0c0"/>
<rect x="1002" y="608" width="1" height="12" fill="#c0c0c0"/>
<rect x="1010" y="608" width="1" height="10" fill="#c0c0c0"/>
<rect x="1018" y="608" width="1" height="13" fill="#c0c0c0"/>
<rect x="1026" y="608" width="1" height="18" fill="#c0c0c0"/>
<rect x="1034" y="608" width="1" height="23" fill="#c0c0c0"/>
<rect x="1042" y="608" width="1" height="26" fill="#c0c0c0"/>
<rect x="1050" y="608" width="1" height="27" fill="#c0c0c0"/>
<rect x="1058" y="608" width="1" height="28" fill="#c0c0c0"/>
<rect x="1066" y="608" width="1" height="29" fill="#c0c0c0"/>
<rect x="1074" y="608" width="1" height="32" fill="#c0c0c0"/>
<rect x="1082" y="608" width="1" height="36" fill="#c0c0c0"/>
<rect x="1090" y="608" width="1" height="39" fill="#c0c0c0"/>
<rect x="1098" y="608" width="1" height="40" fill="#c0c0c0"/>
<rect x="1106" y="608" width="1" height="36" fill="#c0c0c0"/>
<rect x="1114" y="608" width="1" height="31" fill="#c0c0c0"/>
<rect x="1122" y="608" width="1" height="26" fill="#c0c0c0"/>
<rect x="1130" y="608" width="1" height="19" fill="#c0c0c0"/>
<rect x="1138" y="608" width="1" height="14" fill="#c0c0c0"/>
<rect x="1146" y="608" width="1" height="12" fill="#c0c0c0"/>
<rect x="1154" y="608" width="1" height="10" fill="#c0c0c0"/>
<rect x="1162" y="608" width="1" height="5" fill="#c0c0c0"/>
<rect x="1178" y="603" width="1" height="5" fill="#c0c0c0"/>
<rect x="1186" y="599" width="1" height="9" fill="#c0c0c0"/>
<rect x="1194" y="596" width="1" height="12" fill="#c0c0c0"/>
<rect x="1202" y="593" width="1" height="15" fill="#c0c0c0"/>
<rect x="1210" y="597" width="1" height="11" fill="#c0c0c0"/>
<rect x="1218" y="598" width="1" height="10" fill="#c0c0c0"/>
<rect x="1226" y="598" width="1" height="10" fill="#c0c0c0"/>
<rect x="1234" y="597" width="1" height="11" fill="#c0c0c0"/>
<rect x="1242" y="596" width="1" height="12" fill="#c0c0c0"/>
<rect x="1250" y="598" width="1" height="10" fill="#c0c0c0"/>
<rect x="1258" y="602" width="1" height="6" fill="#c0c0c0"/>
<rect x="1274" y="608" width="1" height="12" fill="#c0c0c0"/>
<rect x="1282" y="608" width="1" height="22" fill="#c0c0c0"/>
<rect x="1290" y="608" width="1" height="27" fill="#c0c0c0"/>
<rect x="1298" y="608" width="1" height="32" fill="#c0c0c0"/>
<rect x="1306" y="608" width="1" height="31" fill="#c0c0c0"/>
<rect x="1314" y="608" width="1" height="27" fill="#c0c0c0"/>
<rect x="1322" y="608" width="1" height="18" fill="#c0c0c0"/>
<rect x="1330" y="608" width="1" height="16" fill="#c0c0c0"/>
<rect x="1338" y="608" width="1" height="14" fill="#c0c0c0"/>
<rect x="1346" y="608" width="1" height="11" fill="#c0c0c0"/>
<rect x="1354" y="608" width="1" height="12" fill="#c0c0c0"/>
<rect x="1362" y="608" width="1" height="14" fill="#c0c0c0"/>
<rect x="1370" y="608" width="1" height="14" fill="#c0c0c0"/>
<rect x="1378" y="608" width="1" height="14" fill="#c0c0c0"/>
<rect x="1386" y="608" width="1" height="14" fill="#c0c0c0"/>
</g>
<polyline clip-path="url(#cmacd)" points="0.0,647.5 7.4,645.7 13.6,643.8 19.8,641.7 26.0,638.5 32.1,634.8 37.1,631.5 43.3,627.8 49.4,624.7 55.6,622.4 61.8,620.0 68.0,617.9 74.2,615.4 80.3,613.5 86.5,612.3 92.7,611.4 98.9,610.7 106.3,610.5 111.2,609.6 117.4,609.2 123.6,608.3 131.0,607.6 142.2,607.6 154.5,607.7 166.9,608.2 179.2,608.6 191.6,609.5 200.2,610.5 206.4,611.3 210.6,612.4 221.2,616.2 231.8,620.8 242.4,625.3 253.0,630.0 263.6,635.9 272.0,639.5 284.7,641.2 299.6,641.2 314.4,639.5 327.1,637.0 337.7,634.2 348.3,632.5 354.7,631.4 363.1,632.5 375.8,637.4 386.4,644.8 397.0,656.4 405.5,666.0 411.9,674.4 420.3,686.1 428.8,698.8 437.3,710.5 445.8,720.0 454.2,727.4 464.8,733.8 475.4,738.0 483.9,739.5 492.4,739.5 500.8,736.5 509.3,733.8 517.8,729.5 528.4,722.1 539.0,714.7 549.6,704.1 558.0,697.3 579.7,675.9 592.4,666.0 605.1,655.4 617.8,645.8 634.7,637.0 651.7,628.9 668.6,625.7 685.6,622.1 702.5,616.8 719.5,614.5 736.4,612.4 753.4,612.4 766.1,613.6 783.1,615.8 802.1,620.4 812.7,622.5 825.4,625.7 838.1,628.9 850.8,632.7 863.6,637.0 876.3,640.6 889.0,643.7 901.7,646.9 909.2,648.1 915.3,649.4 923.0,650.4 930.6,651.2 941.3,651.2 953.6,649.4 964.3,647.4 973.4,645.9 982.6,641.3 993.3,636.7 1004.1,631.3 1013.2,628.0 1025.5,625.5 1042.3,625.5 1053.0,626.4 1062.2,629.0 1071.4,630.6 1083.6,635.1 1092.8,637.4 1100.5,640.2 1114.2,641.4 1126.5,640.5 1138.7,639.3 1147.9,635.1 1156.1,633.2 1162.2,630.1 1169.9,625.1 1177.5,620.2 1186.7,615.6 1195.9,610.7 1205.1,606.7 1214.3,603.7 1223.5,601.1 1232.6,598.5 1241.8,596.5 1257.1,596.5 1266.3,598.5 1275.5,601.8 1284.7,605.7 1293.8,611.0 1301.5,615.6 1309.1,621.0 1316.8,624.8 1324.4,627.8 1333.6,629.4 1341.3,630.1 1348.9,628.6 1364.2,627.1 1373.4,625.1 1385.7,623.3" fill="none" stroke="#ff0000" stroke-width="1" stroke-dasharray="3,3" shape-rendering="crispEdges"/>
<text x="-1" y="596" font-size="9.5" fill="#000" stroke="#000" stroke-width="0.25" textLength="153" lengthAdjust="spacingAndGlyphs" style="font-family:DejaVu Sans, Liberation Sans, sans-serif">MACD(12,26,9) -0.000670 -0.000714</text>
<line x1="1304" y1="629" x2="1383.0" y2="629.5" stroke="#ff0000" stroke-width="3.2"/>
<polygon points="1391,629.5 1380.0,634.4 1383.0,629.5 1380.0,624.4" fill="#ff0000"/>
<g shape-rendering="crispEdges">
<line x1="1" y1="790.5" x2="1652" y2="790.5" stroke="#c0c0c0" stroke-width="1" stroke-dasharray="3,3"/>
<line x1="1" y1="842.5" x2="1652" y2="842.5" stroke="#c0c0c0" stroke-width="1" stroke-dasharray="3,3"/>
<line x1="1" y1="903.5" x2="1652" y2="903.5" stroke="#c0c0c0" stroke-width="1" stroke-dasharray="3,3"/>
</g>
<polyline clip-path="url(#crsi)" points="-6.0,845.5 2.0,845.5 10.0,847.5 18.0,830.7 26.0,833.1 34.0,834.8 42.0,841.0 50.0,845.5 58.0,842.2 66.0,841.4 74.0,845.5 82.0,845.2 90.0,839.7 98.0,838.1 106.0,831.5 114.0,839.4 122.0,843.3 130.0,843.8 138.0,850.4 146.0,856.2 154.0,843.3 162.0,845.5 170.0,847.1 178.0,845.2 186.0,834.4 194.0,838.9 202.0,866.9 210.0,878.4 218.0,876.0 226.0,871.9 234.0,875.2 242.0,862.8 250.0,863.6 258.0,856.5 266.0,858.2 274.0,858.2 282.0,856.2 290.0,843.0 298.0,861.1 306.0,852.6 314.0,849.3 322.0,850.1 330.0,851.6 338.0,845.5 346.0,853.2 354.0,853.2 362.0,888.3 370.0,889.5 378.0,890.8 386.0,896.1 394.0,898.2 402.0,901.0 410.0,902.7 418.0,896.6 426.0,890.5 434.0,891.1 442.0,892.5 450.0,898.2 458.0,898.7 466.0,899.4 474.0,901.0 482.0,882.6 490.0,874.3 498.0,867.4 506.0,862.5 514.0,864.1 522.0,864.4 530.0,868.1 538.0,871.4 546.0,862.0 554.0,844.3 562.0,845.5 570.0,852.1 578.0,844.3 586.0,843.0 594.0,839.4 602.0,851.3 610.0,848.3 618.0,852.1 626.0,846.3 634.0,844.3 642.0,849.3 650.0,845.5 658.0,848.5 666.0,840.0 674.0,836.1 682.0,840.0 690.0,841.0 698.0,847.1 706.0,840.5 714.0,850.1 722.0,840.5 730.0,857.5 738.0,842.7 746.0,847.1 754.0,845.5 762.0,853.2 770.0,853.2 778.0,862.5 786.0,853.2 794.0,856.2 802.0,855.4 810.0,854.2 818.0,855.0 826.0,858.2 834.0,876.0 842.0,869.1 850.0,870.2 858.0,871.9 866.0,873.0 874.0,853.7 882.0,862.0 890.0,866.4 898.0,866.4 906.0,867.4 914.0,874.0 922.0,875.2 930.0,856.2 938.0,845.5 946.0,851.3 954.0,852.1 962.0,842.7 970.0,841.0 978.0,845.0 986.0,846.0 994.0,847.1 1002.0,840.5 1010.0,841.0 1018.0,859.2 1026.0,869.1 1034.0,865.3 1042.0,865.3 1050.0,863.3 1058.0,863.3 1066.0,864.4 1074.0,872.7 1082.0,877.1 1090.0,878.3 1098.0,878.2 1106.0,853.7 1114.0,845.4 1122.0,840.1 1130.0,835.4 1138.0,836.4 1146.0,841.1 1154.0,841.1 1162.0,830.7 1170.0,827.3 1178.0,818.5 1186.0,822.2 1194.0,825.4 1202.0,820.4 1210.0,849.2 1218.0,838.6 1226.0,837.3 1234.0,836.0 1242.0,831.7 1250.0,843.5 1258.0,849.6 1266.0,859.9 1274.0,876.3 1282.0,876.3 1290.0,870.7 1298.0,870.3 1306.0,859.4 1314.0,845.5 1322.0,839.3 1330.0,840.1 1338.0,841.4 1346.0,838.1 1354.0,853.3 1362.0,855.4 1370.0,850.4 1378.0,850.4 1386.0,850.4" fill="none" stroke="#1e90ff" stroke-width="1" shape-rendering="crispEdges"/>
<text x="-1" y="768" font-size="9.5" fill="#000" stroke="#000" stroke-width="0.25" textLength="67" lengthAdjust="spacingAndGlyphs" style="font-family:DejaVu Sans, Liberation Sans, sans-serif">RSI(14) 45.5169</text>
<line x1="1311" y1="847.5" x2="1376.0" y2="847.5" stroke="#ff0000" stroke-width="3.2"/>
<polygon points="1384,847.5 1373.0,852.5 1376.0,847.5 1373.0,842.5" fill="#ff0000"/>
<g shape-rendering="crispEdges" fill="#000">
<rect x="0" y="28" width="1653" height="1"/>
<rect x="1652" y="28" width="1" height="554"/>
<rect x="0" y="581" width="1653" height="1"/>
<rect x="0" y="583" width="1653" height="1"/>
<rect x="1652" y="583" width="1" height="171"/>
<rect x="0" y="753" width="1653" height="1"/>
<rect x="0" y="755" width="1653" height="1"/>
<rect x="1652" y="755" width="1" height="175"/>
<rect x="0" y="929" width="1653" height="1"/>
</g>
<g shape-rendering="crispEdges" fill="#000">
<rect x="1653" y="50" width="2" height="1"/>
<rect x="1653" y="83" width="2" height="1"/>
<rect x="1653" y="116" width="2" height="1"/>
<rect x="1653" y="150" width="2" height="1"/>
<rect x="1653" y="182" width="2" height="1"/>
<rect x="1653" y="216" width="2" height="1"/>
<rect x="1653" y="248" width="2" height="1"/>
<rect x="1653" y="282" width="2" height="1"/>
<rect x="1653" y="314" width="2" height="1"/>
<rect x="1653" y="348" width="2" height="1"/>
<rect x="1653" y="380" width="2" height="1"/>
<rect x="1653" y="414" width="2" height="1"/>
<rect x="1653" y="446" width="2" height="1"/>
<rect x="1653" y="480" width="2" height="1"/>
<rect x="1653" y="512" width="2" height="1"/>
<rect x="1653" y="546" width="2" height="1"/>
<rect x="1653" y="578" width="2" height="1"/>
</g>
<text x="1658" y="54" font-size="9.5" fill="#000" stroke="#000" stroke-width="0.25" textLength="32" lengthAdjust="spacingAndGlyphs" style="font-family:DejaVu Sans, Liberation Sans, sans-serif">1.22220</text>
<text x="1658" y="87" font-size="9.5" fill="#000" stroke="#000" stroke-width="0.25" textLength="32" lengthAdjust="spacingAndGlyphs" style="font-family:DejaVu Sans, Liberation Sans, sans-serif">1.21930</text>
<text x="1658" y="120" font-size="9.5" fill="#000" stroke="#000" stroke-width="0.25" textLength="32" lengthAdjust="spacingAndGlyphs" style="font-family:DejaVu Sans, Liberation Sans, sans-serif">1.21645</text>
<text x="1658" y="154" font-size="9.5" fill="#000" stroke="#000" stroke-width="0.25" textLength="32" lengthAdjust="spacingAndGlyphs" style="font-family:DejaVu Sans, Liberation Sans, sans-serif">1.21355</text>
<text x="1658" y="186" font-size="9.5" fill="#000" stroke="#000" stroke-width="0.25" textLength="32" lengthAdjust="spacingAndGlyphs" style="font-family:DejaVu Sans, Liberation Sans, sans-serif">1.21070</text>
<text x="1658" y="220" font-size="9.5" fill="#000" stroke="#000" stroke-width="0.25" textLength="32" lengthAdjust="spacingAndGlyphs" style="font-family:DejaVu Sans, Liberation Sans, sans-serif">1.20780</text>
<text x="1658" y="252" font-size="9.5" fill="#000" stroke="#000" stroke-width="0.25" textLength="32" lengthAdjust="spacingAndGlyphs" style="font-family:DejaVu Sans, Liberation Sans, sans-serif">1.20495</text>
<text x="1658" y="286" font-size="9.5" fill="#000" stroke="#000" stroke-width="0.25" textLength="32" lengthAdjust="spacingAndGlyphs" style="font-family:DejaVu Sans, Liberation Sans, sans-serif">1.20205</text>
<text x="1658" y="318" font-size="9.5" fill="#000" stroke="#000" stroke-width="0.25" textLength="32" lengthAdjust="spacingAndGlyphs" style="font-family:DejaVu Sans, Liberation Sans, sans-serif">1.19920</text>
<text x="1658" y="352" font-size="9.5" fill="#000" stroke="#000" stroke-width="0.25" textLength="32" lengthAdjust="spacingAndGlyphs" style="font-family:DejaVu Sans, Liberation Sans, sans-serif">1.19630</text>
<text x="1658" y="384" font-size="9.5" fill="#000" stroke="#000" stroke-width="0.25" textLength="32" lengthAdjust="spacingAndGlyphs" style="font-family:DejaVu Sans, Liberation Sans, sans-serif">1.19345</text>
<text x="1658" y="418" font-size="9.5" fill="#000" stroke="#000" stroke-width="0.25" textLength="32" lengthAdjust="spacingAndGlyphs" style="font-family:DejaVu Sans, Liberation Sans, sans-serif">1.19055</text>
<text x="1658" y="450" font-size="9.5" fill="#000" stroke="#000" stroke-width="0.25" textLength="32" lengthAdjust="spacingAndGlyphs" style="font-family:DejaVu Sans, Liberation Sans, sans-serif">1.18770</text>
<text x="1658" y="484" font-size="9.5" fill="#000" stroke="#000" stroke-width="0.25" textLength="32" lengthAdjust="spacingAndGlyphs" style="font-family:DejaVu Sans, Liberation Sans, sans-serif">1.18480</text>
<text x="1658" y="516" font-size="9.5" fill="#000" stroke="#000" stroke-width="0.25" textLength="32" lengthAdjust="spacingAndGlyphs" style="font-family:DejaVu Sans, Liberation Sans, sans-serif">1.18195</text>
<text x="1658" y="550" font-size="9.5" fill="#000" stroke="#000" stroke-width="0.25" textLength="32" lengthAdjust="spacingAndGlyphs" style="font-family:DejaVu Sans, Liberation Sans, sans-serif">1.17905</text>
<text x="1658" y="582" font-size="9.5" fill="#000" stroke="#000" stroke-width="0.25" textLength="32" lengthAdjust="spacingAndGlyphs" style="font-family:DejaVu Sans, Liberation Sans, sans-serif">1.17620</text>
<rect x="1654" y="469" width="41" height="11" fill="#ff0000" shape-rendering="crispEdges"/>
<text x="1658" y="478" font-size="9.5" fill="#fff" stroke="#fff" stroke-width="0.25" textLength="32" lengthAdjust="spacingAndGlyphs" style="font-family:DejaVu Sans, Liberation Sans, sans-serif">1.18522</text>
<rect x="1654" y="483" width="41" height="11" fill="#ff0000" shape-rendering="crispEdges"/>
<text x="1658" y="492" font-size="9.5" fill="#fff" stroke="#fff" stroke-width="0.25" textLength="32" lengthAdjust="spacingAndGlyphs" style="font-family:DejaVu Sans, Liberation Sans, sans-serif">1.18400</text>
<rect x="1654" y="498" width="41" height="11" fill="#ffa500" shape-rendering="crispEdges"/>
<text x="1658" y="507" font-size="9.5" fill="#fff" stroke="#fff" stroke-width="0.25" textLength="32" lengthAdjust="spacingAndGlyphs" style="font-family:DejaVu Sans, Liberation Sans, sans-serif">1.18270</text>
<rect x="1654" y="515" width="41" height="11" fill="#000000" shape-rendering="crispEdges"/>
<text x="1658" y="524" font-size="9.5" fill="#fff" stroke="#fff" stroke-width="0.25" textLength="32" lengthAdjust="spacingAndGlyphs" style="font-family:DejaVu Sans, Liberation Sans, sans-serif">1.18123</text>
<rect x="1654" y="532" width="41" height="11" fill="#0000ff" shape-rendering="crispEdges"/>
<text x="1658" y="541" font-size="9.5" fill="#fff" stroke="#fff" stroke-width="0.25" textLength="32" lengthAdjust="spacingAndGlyphs" style="font-family:DejaVu Sans, Liberation Sans, sans-serif">1.17969</text>
<rect x="1654" y="549" width="41" height="11" fill="#0000ff" shape-rendering="crispEdges"/>
<text x="1658" y="558" font-size="9.5" fill="#fff" stroke="#fff" stroke-width="0.25" textLength="32" lengthAdjust="spacingAndGlyphs" style="font-family:DejaVu Sans, Liberation Sans, sans-serif">1.17826</text>
<rect x="1653" y="585" width="2" height="1" fill="#000" shape-rendering="crispEdges"/>
<rect x="1653" y="608" width="2" height="1" fill="#000" shape-rendering="crispEdges"/>
<rect x="1653" y="746" width="2" height="1" fill="#000" shape-rendering="crispEdges"/>
<text x="1656" y="594" font-size="9.5" fill="#000" stroke="#000" stroke-width="0.25" textLength="38" lengthAdjust="spacingAndGlyphs" style="font-family:DejaVu Sans, Liberation Sans, sans-serif">0.001097</text>
<text x="1656" y="612" font-size="9.5" fill="#000" stroke="#000" stroke-width="0.25" textLength="17" lengthAdjust="spacingAndGlyphs" style="font-family:DejaVu Sans, Liberation Sans, sans-serif">0.00</text>
<text x="1656" y="750" font-size="9.5" fill="#000" stroke="#000" stroke-width="0.25" textLength="31" lengthAdjust="spacingAndGlyphs" style="font-family:DejaVu Sans, Liberation Sans, sans-serif">-0.0069</text>
<rect x="1653" y="755" width="2" height="1" fill="#000" shape-rendering="crispEdges"/>
<text x="1656" y="766" font-size="9.5" fill="#000" stroke="#000" stroke-width="0.25" textLength="15" lengthAdjust="spacingAndGlyphs" style="font-family:DejaVu Sans, Liberation Sans, sans-serif">100</text>
<rect x="1653" y="790" width="2" height="1" fill="#000" shape-rendering="crispEdges"/>
<text x="1656" y="795" font-size="9.5" fill="#000" stroke="#000" stroke-width="0.25" textLength="10" lengthAdjust="spacingAndGlyphs" style="font-family:DejaVu Sans, Liberation Sans, sans-serif">80</text>
<rect x="1653" y="842" width="2" height="1" fill="#000" shape-rendering="crispEdges"/>
<text x="1656" y="846" font-size="9.5" fill="#000" stroke="#000" stroke-width="0.25" textLength="10" lengthAdjust="spacingAndGlyphs" style="font-family:DejaVu Sans, Liberation Sans, sans-serif">50</text>
<rect x="1653" y="903" width="2" height="1" fill="#000" shape-rendering="crispEdges"/>
<text x="1656" y="907" font-size="9.5" fill="#000" stroke="#000" stroke-width="0.25" textLength="10" lengthAdjust="spacingAndGlyphs" style="font-family:DejaVu Sans, Liberation Sans, sans-serif">15</text>
<rect x="1653" y="928" width="2" height="1" fill="#000" shape-rendering="crispEdges"/>
<text x="1656" y="926" font-size="9.5" fill="#000" stroke="#000" stroke-width="0.25" textLength="5" lengthAdjust="spacingAndGlyphs" style="font-family:DejaVu Sans, Liberation Sans, sans-serif">0</text>
<g shape-rendering="crispEdges" fill="#000">
<rect x="58" y="930" width="1" height="3"/>
<rect x="122" y="930" width="1" height="3"/>
<rect x="186" y="930" width="1" height="3"/>
<rect x="250" y="930" width="1" height="3"/>
<rect x="314" y="930" width="1" height="3"/>
<rect x="378" y="930" width="1" height="3"/>
<rect x="442" y="930" width="1" height="3"/>
<rect x="506" y="930" width="1" height="3"/>
<rect x="570" y="930" width="1" height="3"/>
<rect x="634" y="930" width="1" height="3"/>
<rect x="698" y="930" width="1" height="3"/>
<rect x="762" y="930" width="1" height="3"/>
<rect x="826" y="930" width="1" height="3"/>
<rect x="890" y="930" width="1" height="3"/>
<rect x="954" y="930" width="1" height="3"/>
<rect x="1018" y="930" width="1" height="3"/>
<rect x="1082" y="930" width="1" height="3"/>
<rect x="1146" y="930" width="1" height="3"/>
<rect x="1210" y="930" width="1" height="3"/>
<rect x="1274" y="930" width="1" height="3"/>
<rect x="1338" y="930" width="1" height="3"/>
</g>
<text x="57" y="942" font-size="9.5" fill="#000" stroke="#000" stroke-width="0.25" textLength="47" lengthAdjust="spacingAndGlyphs" style="font-family:DejaVu Sans, Liberation Sans, sans-serif">8 Jun 08:00</text>
<text x="121" y="942" font-size="9.5" fill="#000" stroke="#000" stroke-width="0.25" textLength="47" lengthAdjust="spacingAndGlyphs" style="font-family:DejaVu Sans, Liberation Sans, sans-serif">9 Jun 16:00</text>
<text x="185" y="942" font-size="9.5" fill="#000" stroke="#000" stroke-width="0.25" textLength="52" lengthAdjust="spacingAndGlyphs" style="font-family:DejaVu Sans, Liberation Sans, sans-serif">11 Jun 00:00</text>
<text x="249" y="942" font-size="9.5" fill="#000" stroke="#000" stroke-width="0.25" textLength="52" lengthAdjust="spacingAndGlyphs" style="font-family:DejaVu Sans, Liberation Sans, sans-serif">14 Jun 08:00</text>
<text x="313" y="942" font-size="9.5" fill="#000" stroke="#000" stroke-width="0.25" textLength="52" lengthAdjust="spacingAndGlyphs" style="font-family:DejaVu Sans, Liberation Sans, sans-serif">15 Jun 16:00</text>
<text x="377" y="942" font-size="9.5" fill="#000" stroke="#000" stroke-width="0.25" textLength="52" lengthAdjust="spacingAndGlyphs" style="font-family:DejaVu Sans, Liberation Sans, sans-serif">17 Jun 00:00</text>
<text x="441" y="942" font-size="9.5" fill="#000" stroke="#000" stroke-width="0.25" textLength="52" lengthAdjust="spacingAndGlyphs" style="font-family:DejaVu Sans, Liberation Sans, sans-serif">18 Jun 08:00</text>
<text x="505" y="942" font-size="9.5" fill="#000" stroke="#000" stroke-width="0.25" textLength="52" lengthAdjust="spacingAndGlyphs" style="font-family:DejaVu Sans, Liberation Sans, sans-serif">21 Jun 16:00</text>
<text x="569" y="942" font-size="9.5" fill="#000" stroke="#000" stroke-width="0.25" textLength="52" lengthAdjust="spacingAndGlyphs" style="font-family:DejaVu Sans, Liberation Sans, sans-serif">23 Jun 00:00</text>
<text x="633" y="942" font-size="9.5" fill="#000" stroke="#000" stroke-width="0.25" textLength="52" lengthAdjust="spacingAndGlyphs" style="font-family:DejaVu Sans, Liberation Sans, sans-serif">24 Jun 08:00</text>
<text x="697" y="942" font-size="9.5" fill="#000" stroke="#000" stroke-width="0.25" textLength="52" lengthAdjust="spacingAndGlyphs" style="font-family:DejaVu Sans, Liberation Sans, sans-serif">25 Jun 16:00</text>
<text x="761" y="942" font-size="9.5" fill="#000" stroke="#000" stroke-width="0.25" textLength="52" lengthAdjust="spacingAndGlyphs" style="font-family:DejaVu Sans, Liberation Sans, sans-serif">29 Jun 00:00</text>
<text x="825" y="942" font-size="9.5" fill="#000" stroke="#000" stroke-width="0.25" textLength="52" lengthAdjust="spacingAndGlyphs" style="font-family:DejaVu Sans, Liberation Sans, sans-serif">30 Jun 08:00</text>
<text x="889" y="942" font-size="9.5" fill="#000" stroke="#000" stroke-width="0.25" textLength="44" lengthAdjust="spacingAndGlyphs" style="font-family:DejaVu Sans, Liberation Sans, sans-serif">1 Jul 16:00</text>
<text x="953" y="942" font-size="9.5" fill="#000" stroke="#000" stroke-width="0.25" textLength="44" lengthAdjust="spacingAndGlyphs" style="font-family:DejaVu Sans, Liberation Sans, sans-serif">5 Jul 00:00</text>
<text x="1017" y="942" font-size="9.5" fill="#000" stroke="#000" stroke-width="0.25" textLength="44" lengthAdjust="spacingAndGlyphs" style="font-family:DejaVu Sans, Liberation Sans, sans-serif">6 Jul 08:00</text>
<text x="1081" y="942" font-size="9.5" fill="#000" stroke="#000" stroke-width="0.25" textLength="44" lengthAdjust="spacingAndGlyphs" style="font-family:DejaVu Sans, Liberation Sans, sans-serif">7 Jul 16:00</text>
<text x="1145" y="942" font-size="9.5" fill="#000" stroke="#000" stroke-width="0.25" textLength="44" lengthAdjust="spacingAndGlyphs" style="font-family:DejaVu Sans, Liberation Sans, sans-serif">9 Jul 00:00</text>
<text x="1209" y="942" font-size="9.5" fill="#000" stroke="#000" stroke-width="0.25" textLength="49" lengthAdjust="spacingAndGlyphs" style="font-family:DejaVu Sans, Liberation Sans, sans-serif">12 Jul 08:00</text>
<text x="1273" y="942" font-size="9.5" fill="#000" stroke="#000" stroke-width="0.25" textLength="49" lengthAdjust="spacingAndGlyphs" style="font-family:DejaVu Sans, Liberation Sans, sans-serif">13 Jul 16:00</text>
<text x="1337" y="942" font-size="9.5" fill="#000" stroke="#000" stroke-width="0.25" textLength="49" lengthAdjust="spacingAndGlyphs" style="font-family:DejaVu Sans, Liberation Sans, sans-serif">15 Jul 00:00</text>
<text x="1" y="942" font-size="9.5" fill="#000" stroke="#000" stroke-width="0.25" textLength="37" lengthAdjust="spacingAndGlyphs" style="font-family:DejaVu Sans, Liberation Sans, sans-serif">Jun 2021</text>
<rect x="1698" y="26" width="1" height="919" fill="#e4e4e4"/>
<rect x="0" y="0" width="1699" height="24" fill="#f0f0f0"/>
<rect x="0" y="24" width="1699" height="1" fill="#a0a0a0"/>
<rect x="0" y="25" width="1699" height="1" fill="#6d6d6d"/>
<g id="toolbar">
<g shape-rendering="crispEdges">
</g>
<line x1="0.5" y1="16" x2="4.5" y2="20.5" stroke="#c8a030" stroke-width="2.6"/>
<circle cx="-3" cy="11" r="4.8" fill="#d8ecfa" stroke="#5a8cd0" stroke-width="1.4"/>
<g shape-rendering="crispEdges">
<rect x="13" y="2" width="1" height="20" fill="#a0a0a0"/>
<rect x="14" y="2" width="1" height="20" fill="#ffffff"/>
<rect x="287" y="0" width="25" height="22" fill="#f7f7f7"/>
<rect x="287" y="0" width="25" height="1" fill="#b4b4b4"/>
<rect x="287" y="0" width="1" height="22" fill="#b4b4b4"/>
<rect x="439" y="0" width="25" height="22" fill="#f7f7f7"/>
<rect x="439" y="0" width="25" height="1" fill="#b4b4b4"/>
<rect x="439" y="0" width="1" height="22" fill="#b4b4b4"/>
<rect x="467" y="0" width="25" height="22" fill="#f7f7f7"/>
<rect x="467" y="0" width="25" height="1" fill="#b4b4b4"/>
<rect x="467" y="0" width="1" height="22" fill="#b4b4b4"/>
<rect x="627" y="0" width="25" height="22" fill="#f7f7f7"/>
<rect x="627" y="0" width="25" height="1" fill="#b4b4b4"/>
<rect x="627" y="0" width="1" height="22" fill="#b4b4b4"/>
<rect x="1073" y="0" width="25" height="22" fill="#f7f7f7"/>
<rect x="1073" y="0" width="25" height="1" fill="#b4b4b4"/>
<rect x="1073" y="0" width="1" height="22" fill="#b4b4b4"/>
<rect x="249" y="2" width="1" height="20" fill="#a0a0a0"/>
<rect x="250" y="2" width="1" height="20" fill="#ffffff"/>
<rect x="253" y="3" width="3" height="1" fill="#b0b0b0"/>
<rect x="253" y="5" width="3" height="1" fill="#b0b0b0"/>
<rect x="253" y="7" width="3" height="1" fill="#b0b0b0"/>
<rect x="253" y="9" width="3" height="1" fill="#b0b0b0"/>
<rect x="253" y="11" width="3" height="1" fill="#b0b0b0"/>
<rect x="253" y="13" width="3" height="1" fill="#b0b0b0"/>
<rect x="253" y="15" width="3" height="1" fill="#b0b0b0"/>
<rect x="253" y="17" width="3" height="1" fill="#b0b0b0"/>
<rect x="253" y="19" width="3" height="1" fill="#b0b0b0"/>
<rect x="253" y="21" width="3" height="1" fill="#b0b0b0"/>
<rect x="344" y="2" width="1" height="20" fill="#a0a0a0"/>
<rect x="345" y="2" width="1" height="20" fill="#ffffff"/>
<rect x="434" y="2" width="1" height="20" fill="#a0a0a0"/>
<rect x="435" y="2" width="1" height="20" fill="#ffffff"/>
<rect x="496" y="2" width="1" height="20" fill="#a0a0a0"/>
<rect x="497" y="2" width="1" height="20" fill="#ffffff"/>
<rect x="617" y="2" width="1" height="20" fill="#a0a0a0"/>
<rect x="618" y="2" width="1" height="20" fill="#ffffff"/>
<rect x="622" y="3" width="3" height="1" fill="#b0b0b0"/>
<rect x="622" y="5" width="3" height="1" fill="#b0b0b0"/>
<rect x="622" y="7" width="3" height="1" fill="#b0b0b0"/>
<rect x="622" y="9" width="3" height="1" fill="#b0b0b0"/>
<rect x="622" y="11" width="3" height="1" fill="#b0b0b0"/>
<rect x="622" y="13" width="3" height="1" fill="#b0b0b0"/>
<rect x="622" y="15" width="3" height="1" fill="#b0b0b0"/>
<rect x="622" y="17" width="3" height="1" fill="#b0b0b0"/>
<rect x="622" y="19" width="3" height="1" fill="#b0b0b0"/>
<rect x="622" y="21" width="3" height="1" fill="#b0b0b0"/>
<rect x="684" y="2" width="1" height="20" fill="#a0a0a0"/>
<rect x="685" y="2" width="1" height="20" fill="#ffffff"/>
<rect x="923" y="2" width="1" height="20" fill="#a0a0a0"/>
<rect x="924" y="2" width="1" height="20" fill="#ffffff"/>
<rect x="928" y="3" width="3" height="1" fill="#b0b0b0"/>
<rect x="928" y="5" width="3" height="1" fill="#b0b0b0"/>
<rect x="928" y="7" width="3" height="1" fill="#b0b0b0"/>
<rect x="928" y="9" width="3" height="1" fill="#b0b0b0"/>
<rect x="928" y="11" width="3" height="1" fill="#b0b0b0"/>
<rect x="928" y="13" width="3" height="1" fill="#b0b0b0"/>
<rect x="928" y="15" width="3" height="1" fill="#b0b0b0"/>
<rect x="928" y="17" width="3" height="1" fill="#b0b0b0"/>
<rect x="928" y="19" width="3" height="1" fill="#b0b0b0"/>
<rect x="928" y="21" width="3" height="1" fill="#b0b0b0"/>
<rect x="1184" y="2" width="1" height="20" fill="#a0a0a0"/>
<rect x="1185" y="2" width="1" height="20" fill="#ffffff"/>
</g>
<path d="M23.5,4.5 h8 l3,3 v10 h-11z" fill="#fdfdfd" stroke="#606060"/>
<rect x="25" y="6" width="3" height="2" fill="#777"/><rect x="25" y="10" width="6" height="1" fill="#777"/><rect x="25" y="12" width="5" height="1" fill="#777"/><rect x="25" y="14" width="3" height="1" fill="#777"/>
<path d="M31.5,10.5 h3 v4 h4 v3 h-4 v4 h-3 v-4 h-4 v-3 h4z" fill="#2ee02e" stroke="#0a8a0a" stroke-width="1"/>
<text x="42" y="16" font-size="12" style="font-family:'Liberation Sans','Noto Sans CJK SC',sans-serif;font-weight:500" fill="#000" textLength="36" lengthAdjust="spacingAndGlyphs">新订单</text>
<path d="M90,13 l7,-8 l9,6 l-7,8z" fill="#e0b030" stroke="#a07010"/>
<path d="M91,14 l8,5 l0,1 l-8,-5z" fill="#c08020"/>
<rect x="121" y="4" width="10" height="11" fill="#3a8ee8" stroke="#1a5ab0" stroke-width="0.8"/>
<rect x="124" y="7" width="6" height="2" fill="#cfe6ff"/>
<ellipse cx="126" cy="17" rx="8" ry="3.5" fill="#e6eef8" stroke="#8aa0c0"/>
<circle cx="154" cy="12" r="7.5" fill="none" stroke="#9ab0d8" stroke-width="1"/>
<circle cx="154" cy="12" r="5" fill="none" stroke="#6a88c8" stroke-width="1"/>
<circle cx="154" cy="12" r="2" fill="#2050c0"/>
<path d="M154,12 v7 a7,7 0 0 0 6,-3" fill="none" stroke="#30b030" stroke-width="1.5"/>
<ellipse cx="181" cy="9" rx="8" ry="3.5" fill="#4aa0e0" stroke="#2a70b0" stroke-width="0.8"/>
<path d="M175,12 l12,0 l-3,7 l-6,0z" fill="#f0d060" stroke="#b09030" stroke-width="0.8"/>
<circle cx="186" cy="16" r="4" fill="#d82020"/><rect x="184.5" y="14.5" width="3" height="3" fill="#fff"/>
<text x="195" y="16" font-size="12" style="font-family:'Liberation Sans','Noto Sans CJK SC',sans-serif;font-weight:500" fill="#000" textLength="47" lengthAdjust="spacingAndGlyphs">自动交易</text>
<path d="M267.5,6 v14.5 M265,17.5 h14" fill="none" stroke="#505050" stroke-width="1.2"/>
<path d="M266,8 l1.5,-2 l1.5,2 M277,16 l2,1.5 l-2,1.5" fill="none" stroke="#505050" stroke-width="1"/>
<path d="M272.5,16 v-8 h3 M270,14 h2.5" fill="none" stroke="#109010" stroke-width="1.5"/>
<path d="M296.5,6 v14.5 M294,17.5 h14" fill="none" stroke="#505050" stroke-width="1.2"/>
<path d="M295,8 l1.5,-2 l1.5,2 M306,16 l2,1.5 l-2,1.5" fill="none" stroke="#505050" stroke-width="1"/>
<rect x="300" y="7" width="4" height="9" fill="#10d010" stroke="#108010"/>
<rect x="301.5" y="4" width="1" height="15" fill="#108010"/>
<path d="M324.5,6 v14.5 M322,17.5 h14" fill="none" stroke="#505050" stroke-width="1.2"/>
<path d="M323,8 l1.5,-2 l1.5,2 M334,16 l2,1.5 l-2,1.5" fill="none" stroke="#505050" stroke-width="1"/>
<path d="M324,16 q5,-9 8,-6 t4,3" fill="none" stroke="#20a020" stroke-width="1.2"/>
<line x1="363" y1="16" x2="368" y2="21" stroke="#c8a030" stroke-width="3"/>
<circle cx="359" cy="11" r="5.5" fill="#d8ecfa" stroke="#3a7cc8" stroke-width="1.3"/>
<path d="M356,11 h6 M359,8 v6" stroke="#3a7cc8" stroke-width="1.6"/>
<line x1="391" y1="16" x2="396" y2="21" stroke="#c8a030" stroke-width="3"/>
<circle cx="387" cy="11" r="5.5" fill="#d8ecfa" stroke="#3a7cc8" stroke-width="1.3"/>
<path d="M384,11 h6" stroke="#3a7cc8" stroke-width="1.6"/>
<rect x="409" y="4" width="7.5" height="7.5" fill="#2aa02a"/>
<rect x="410.5" y="7" width="4.5" height="2.5" fill="#fff"/>
<rect x="417" y="4" width="7.5" height="7.5" fill="#2a60d0"/>
<rect x="418.5" y="7" width="4.5" height="2.5" fill="#fff"/>
<rect x="409" y="12" width="7.5" height="7.5" fill="#2a60d0"/>
<rect x="410.5" y="15" width="4.5" height="2.5" fill="#fff"/>
<rect x="417" y="12" width="7.5" height="7.5" fill="#2aa02a"/>
<rect x="418.5" y="15" width="4.5" height="2.5" fill="#fff"/>
<path d="M448.5,6 v14.5 M446,17.5 h14" fill="none" stroke="#505050" stroke-width="1.2"/>
<path d="M447,8 l1.5,-2 l1.5,2 M458,16 l2,1.5 l-2,1.5" fill="none" stroke="#505050" stroke-width="1"/>
<path d="M452,8 l4,3.5 l-4,3.5z" fill="#20c020" stroke="#108010" stroke-width="0.6"/>
<path d="M476.5,6 v14.5 M474,17.5 h14" fill="none" stroke="#505050" stroke-width="1.2"/>
<path d="M475,8 l1.5,-2 l1.5,2 M486,16 l2,1.5 l-2,1.5" fill="none" stroke="#505050" stroke-width="1"/>
<rect x="481" y="5" width="1" height="11" fill="#2070c0"/>
<path d="M488,10.5 l-4,0 M484,10.5 l2,-2 M484,10.5 l2,2" stroke="#e05020" stroke-width="1.5"/>
<path d="M506.5,4.5 h8 l3,3 v11 h-11z" fill="#fafafa" stroke="#707070"/>
<path d="M513,14 h3 v-3 h3 v3 h3 v3 h-3 v4 h-3 v-4 h-3z" fill="#22cc22" stroke="#119911" stroke-width="0.8"/>
<polygon points="527,11 533,11 530,14" fill="#000"/>
<polygon points="566,11 572,11 569,14" fill="#000"/>
<polygon points="605,11 611,11 608,14" fill="#000"/>
<circle cx="552" cy="12" r="7.5" fill="#3a7ee0" stroke="#1f4fa0"/>
<circle cx="552" cy="12" r="5" fill="#f4f8ff"/>
<path d="M552,9 v3 h3" stroke="#333" stroke-width="1" fill="none"/>
<rect x="583.5" y="5.5" width="15" height="13" fill="#fff" stroke="#3a6ac0"/>
<rect x="584" y="6" width="14" height="2" fill="#3a6ac0"/>
<path d="M585,11 l3,-1 l3,1 l3,-1 l3,0" stroke="#b03020" fill="none"/>
<path d="M585,16 l3,-1 l3,1 l3,-2 l3,1" stroke="#20a020" fill="none"/>
<path d="M635,5 l0,12 l3,-3 l3,5 l2,-1 l-3,-5 l4,0z" fill="#404040"/>
<path d="M660,12.5 h15 M667.5,5 v15" stroke="#505050" stroke-width="1"/>
<rect x="701" y="6" width="1.3" height="13" fill="#505050"/>
<rect x="724" y="12" width="12" height="1.3" fill="#505050"/>
<line x1="752" y1="19" x2="764" y2="7" stroke="#505050" stroke-width="1.2"/>
<path d="M778,14 l12,-8 M779,18 l12,-8" stroke="#505050" stroke-width="1.2" fill="none"/>
<text x="787" y="21" font-size="8" font-weight="bold" fill="#404040">E</text>
<line x1="807" y1="5.5" x2="819" y2="5.5" stroke="#505050" stroke-dasharray="1,1"/>
<line x1="807" y1="8.5" x2="819" y2="8.5" stroke="#505050" stroke-dasharray="1,1"/>
<line x1="807" y1="11.5" x2="819" y2="11.5" stroke="#505050" stroke-dasharray="1,1"/>
<line x1="807" y1="14.5" x2="819" y2="14.5" stroke="#505050" stroke-dasharray="1,1"/>
<text x="816" y="21" font-size="8" font-weight="bold" fill="#404040">F</text>
<text x="838" y="17" font-size="12" fill="#555" textLength="8" lengthAdjust="spacingAndGlyphs">A</text>
<rect x="864.5" y="6.5" width="11" height="12" fill="none" stroke="#707070" stroke-dasharray="1,1"/>
<text x="866" y="17" font-size="11" font-weight="bold" fill="#555" textLength="8" lengthAdjust="spacingAndGlyphs">T</text>
<path d="M894,9 l2,-3 l2,3z M901,16 l2,3 l2,-3z" fill="#404040"/>
<path d="M893,11 l3,3 l5,-5" stroke="#505050" stroke-width="1.5" fill="none"/>
<polygon points="911,11 917,11 914,14" fill="#000"/>
<text x="938" y="16" font-size="10" fill="#333" textLength="13" lengthAdjust="spacingAndGlyphs">M1</text>
<text x="966" y="16" font-size="10" fill="#333" textLength="13" lengthAdjust="spacingAndGlyphs">M5</text>
<text x="992" y="16" font-size="10" fill="#333" textLength="18" lengthAdjust="spacingAndGlyphs">M15</text>
<text x="1020" y="16" font-size="10" fill="#333" textLength="18" lengthAdjust="spacingAndGlyphs">M30</text>
<text x="1051" y="16" font-size="10" fill="#333" textLength="12" lengthAdjust="spacingAndGlyphs">H1</text>
<text x="1078" y="16" font-size="10" fill="#333" textLength="13" lengthAdjust="spacingAndGlyphs">H4</text>
<text x="1108" y="16" font-size="10" fill="#333" textLength="12" lengthAdjust="spacingAndGlyphs">D1</text>
<text x="1135" y="16" font-size="10" fill="#333" textLength="15" lengthAdjust="spacingAndGlyphs">W1</text>
<text x="1161" y="16" font-size="10" fill="#333" textLength="16" lengthAdjust="spacingAndGlyphs">MN</text>
<circle cx="1654.5" cy="9.5" r="3.7" fill="#fff" stroke="#2a5cd0" stroke-width="1.4"/>
<line x1="1652" y1="12" x2="1647.5" y2="16.5" stroke="#2a5cd0" stroke-width="2.2"/>
<ellipse cx="1677" cy="15" rx="6" ry="4.5" fill="#e8e8f0" stroke="#a0a0a0"/>
<path d="M1673,18 l-1,3 l4,-2z" fill="#e8e8f0" stroke="#a0a0a0" stroke-width="0.8"/>
<circle cx="1685.5" cy="9.5" r="8" fill="#e02a10"/>
<text x="1685.5" y="14" font-size="12" font-weight="bold" fill="#fff" text-anchor="middle">1</text>
</g>
</svg></body></html>
